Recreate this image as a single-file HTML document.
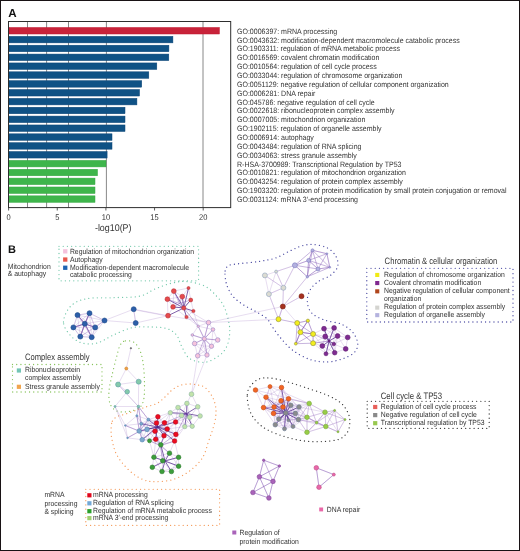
<!DOCTYPE html>
<html><head><meta charset="utf-8"><style>
html,body{margin:0;padding:0;background:#fff;}
body{width:520px;height:551px;overflow:hidden;position:relative;}
svg{position:absolute;left:0;top:0;font-family:"Liberation Sans", sans-serif;will-change:transform;text-rendering:geometricPrecision;}
.frame{position:absolute;left:0;top:0;width:518px;height:549px;border:1px solid #181214;}
</style></head><body>
<svg width="520" height="551" viewBox="0 0 520 551">
<line x1="27.5" y1="22" x2="27.5" y2="207.7" stroke="#7a7a7a" stroke-width="0.9"/>
<line x1="46.6" y1="22" x2="46.6" y2="207.7" stroke="#7a7a7a" stroke-width="0.9"/>
<line x1="68.5" y1="22" x2="68.5" y2="207.7" stroke="#7a7a7a" stroke-width="0.9"/>
<line x1="106.4" y1="22" x2="106.4" y2="207.7" stroke="#7a7a7a" stroke-width="0.9"/>
<line x1="203.0" y1="22" x2="203.0" y2="207.7" stroke="#7a7a7a" stroke-width="0.9"/>
<rect x="9.0" y="27.50" width="210.40" height="6.5" fill="#c8233a" stroke="#c0142c" stroke-width="0.5"/>
<text transform="translate(237 33.7) scale(0.9091 1)" font-size="7.722" fill="#333" >GO:0006397: mRNA processing</text>
<rect x="9.0" y="36.36" width="163.90" height="6.5" fill="#0f5285" stroke="#0b4577" stroke-width="0.5"/>
<text transform="translate(237 42.56) scale(0.9091 1)" font-size="7.722" fill="#333" >GO:0043632: modification-dependent macromolecule catabolic process</text>
<rect x="9.0" y="45.22" width="159.90" height="6.5" fill="#0f5285" stroke="#0b4577" stroke-width="0.5"/>
<text transform="translate(237 51.42) scale(0.9091 1)" font-size="7.722" fill="#333" >GO:1903311: regulation of mRNA metabolic process</text>
<rect x="9.0" y="54.08" width="159.80" height="6.5" fill="#0f5285" stroke="#0b4577" stroke-width="0.5"/>
<text transform="translate(237 60.28) scale(0.9091 1)" font-size="7.722" fill="#333" >GO:0016569: covalent chromatin modification</text>
<rect x="9.0" y="62.94" width="147.80" height="6.5" fill="#0f5285" stroke="#0b4577" stroke-width="0.5"/>
<text transform="translate(237 69.14) scale(0.9091 1)" font-size="7.722" fill="#333" >GO:0010564: regulation of cell cycle process</text>
<rect x="9.0" y="71.80" width="139.80" height="6.5" fill="#0f5285" stroke="#0b4577" stroke-width="0.5"/>
<text transform="translate(237 78.0) scale(0.9091 1)" font-size="7.722" fill="#333" >GO:0033044: regulation of chromosome organization</text>
<rect x="9.0" y="80.66" width="132.70" height="6.5" fill="#0f5285" stroke="#0b4577" stroke-width="0.5"/>
<text transform="translate(237 86.86) scale(0.9091 1)" font-size="7.722" fill="#333" >GO:0051129: negative regulation of cellular component organization</text>
<rect x="9.0" y="89.52" width="130.50" height="6.5" fill="#0f5285" stroke="#0b4577" stroke-width="0.5"/>
<text transform="translate(237 95.72) scale(0.9091 1)" font-size="7.722" fill="#333" >GO:0006281: DNA repair</text>
<rect x="9.0" y="98.38" width="127.90" height="6.5" fill="#0f5285" stroke="#0b4577" stroke-width="0.5"/>
<text transform="translate(237 104.58) scale(0.9091 1)" font-size="7.722" fill="#333" >GO:045786: negative regulation of cell cycle</text>
<rect x="9.0" y="107.24" width="116.00" height="6.5" fill="#0f5285" stroke="#0b4577" stroke-width="0.5"/>
<text transform="translate(237 113.44) scale(0.9091 1)" font-size="7.722" fill="#333" >GO:0022618: ribonucleoprotein complex assembly</text>
<rect x="9.0" y="116.10" width="116.00" height="6.5" fill="#0f5285" stroke="#0b4577" stroke-width="0.5"/>
<text transform="translate(237 122.3) scale(0.9091 1)" font-size="7.722" fill="#333" >GO:0007005: mitochondrion organization</text>
<rect x="9.0" y="124.96" width="116.00" height="6.5" fill="#0f5285" stroke="#0b4577" stroke-width="0.5"/>
<text transform="translate(237 131.16) scale(0.9091 1)" font-size="7.722" fill="#333" >GO:1902115: regulation of organelle assembly</text>
<rect x="9.0" y="133.82" width="103.00" height="6.5" fill="#0f5285" stroke="#0b4577" stroke-width="0.5"/>
<text transform="translate(237 140.02) scale(0.9091 1)" font-size="7.722" fill="#333" >GO:0006914: autophagy</text>
<rect x="9.0" y="142.68" width="103.00" height="6.5" fill="#0f5285" stroke="#0b4577" stroke-width="0.5"/>
<text transform="translate(237 148.88) scale(0.9091 1)" font-size="7.722" fill="#333" >GO:0043484: regulation of RNA splicing</text>
<rect x="9.0" y="151.54" width="98.10" height="6.5" fill="#0f5285" stroke="#0b4577" stroke-width="0.5"/>
<text transform="translate(237 157.74) scale(0.9091 1)" font-size="7.722" fill="#333" >GO:0034063: stress granule assembly</text>
<rect x="9.0" y="160.40" width="97.00" height="6.5" fill="#3eb54b" stroke="#35a843" stroke-width="0.5"/>
<text transform="translate(237 166.6) scale(0.9091 1)" font-size="7.722" fill="#333" >R-HSA-3700989: Transcriptional Regulation by TP53</text>
<rect x="9.0" y="169.26" width="88.50" height="6.5" fill="#3eb54b" stroke="#35a843" stroke-width="0.5"/>
<text transform="translate(237 175.46) scale(0.9091 1)" font-size="7.722" fill="#333" >GO:0010821: regulation of mitochondrion organization</text>
<rect x="9.0" y="178.12" width="86.00" height="6.5" fill="#3eb54b" stroke="#35a843" stroke-width="0.5"/>
<text transform="translate(237 184.32) scale(0.9091 1)" font-size="7.722" fill="#333" >GO:0043254: regulation of protein complex assembly</text>
<rect x="9.0" y="186.98" width="86.00" height="6.5" fill="#3eb54b" stroke="#35a843" stroke-width="0.5"/>
<text transform="translate(237 193.18) scale(0.9091 1)" font-size="7.722" fill="#333" >GO:1903320: regulation of protein modification by small protein conjugation or removal</text>
<rect x="9.0" y="195.84" width="86.00" height="6.5" fill="#3eb54b" stroke="#35a843" stroke-width="0.5"/>
<text transform="translate(237 202.04) scale(0.9091 1)" font-size="7.722" fill="#333" >GO:0031124: mRNA 3′-end processing</text>
<rect x="8.5" y="21.5" width="222.2" height="186.1" fill="none" stroke="#2e2e2e" stroke-width="1"/>
<line x1="8.60" y1="207.7" x2="8.60" y2="210.5" stroke="#333" stroke-width="0.8"/>
<text transform="translate(8.6 220.2) scale(0.9091 1)" font-size="8.250" fill="#333" text-anchor="middle">0</text>
<line x1="57.25" y1="207.7" x2="57.25" y2="210.5" stroke="#333" stroke-width="0.8"/>
<text transform="translate(57.25 220.2) scale(0.9091 1)" font-size="8.250" fill="#333" text-anchor="middle">5</text>
<line x1="105.90" y1="207.7" x2="105.90" y2="210.5" stroke="#333" stroke-width="0.8"/>
<text transform="translate(105.9 220.2) scale(0.9091 1)" font-size="8.250" fill="#333" text-anchor="middle">10</text>
<line x1="154.55" y1="207.7" x2="154.55" y2="210.5" stroke="#333" stroke-width="0.8"/>
<text transform="translate(154.55 220.2) scale(0.9091 1)" font-size="8.250" fill="#333" text-anchor="middle">15</text>
<line x1="203.20" y1="207.7" x2="203.20" y2="210.5" stroke="#333" stroke-width="0.8"/>
<text transform="translate(203.2 220.2) scale(0.9091 1)" font-size="8.250" fill="#333" text-anchor="middle">20</text>
<text transform="translate(113.2 231.1) scale(0.9091 1)" font-size="9.790" fill="#333" text-anchor="middle">-log10(P)</text>
<text x="8.2" y="16.8" font-size="11.6" font-weight="bold" fill="#111">A</text>
<text x="8" y="253.3" font-size="11" font-weight="bold" fill="#111">B</text>
<path d="M63.5,322.0 C63.5,317.2 66.7,310.4 70.4,306.5 C74.1,302.6 78.8,300.3 85.8,298.8 C92.8,297.3 103.7,298.1 112.7,297.7 C121.7,297.3 132.5,297.6 139.6,296.2 C146.7,294.8 149.9,291.1 155.0,289.0 C160.1,286.9 165.3,284.8 170.4,283.5 C175.5,282.2 180.1,281.1 185.8,281.5 C191.5,281.9 199.5,283.6 204.6,286.0 C209.7,288.4 213.2,292.5 216.5,296.0 C219.8,299.5 222.1,302.5 224.2,307.0 C226.3,311.5 228.1,318.2 229.0,323.0 C229.9,327.8 230.0,331.8 229.5,336.0 C229.0,340.2 227.8,344.7 226.0,348.0 C224.2,351.3 222.0,353.6 218.5,356.0 C215.0,358.4 209.8,361.9 205.0,362.3 C200.2,362.7 193.4,361.1 189.6,358.5 C185.8,355.9 184.2,350.9 182.0,347.0 C179.8,343.1 179.1,338.1 176.5,335.0 C173.9,331.9 170.8,329.8 166.5,328.5 C162.2,327.2 156.8,327.1 151.0,327.0 C145.2,326.9 138.4,326.3 132.0,327.7 C125.6,329.1 118.5,332.8 112.7,335.4 C106.9,337.9 102.4,341.7 97.3,343.0 C92.2,344.3 86.5,344.3 82.0,343.0 C77.5,341.7 73.5,338.9 70.4,335.4 C67.3,331.9 63.5,326.8 63.5,322.0Z" fill="none" stroke="#72c8aa" stroke-width="1.3" stroke-linecap="round" stroke-dasharray="0.01 4.2"/>
<path d="M225.1,271.0 C225.5,267.9 226.8,266.7 229.0,265.5 C231.2,264.3 233.2,264.5 238.1,263.8 C243.0,263.1 252.1,262.5 258.3,261.5 C264.6,260.5 270.3,259.8 275.6,258.0 C280.9,256.2 285.7,252.9 290.0,250.9 C294.3,248.9 297.7,247.1 301.5,246.0 C305.3,244.9 308.7,244.2 313.0,244.5 C317.3,244.8 323.6,246.0 327.5,248.0 C331.4,250.0 334.4,253.5 336.1,256.6 C337.8,259.7 338.6,263.6 337.6,266.7 C336.7,269.8 333.5,273.0 330.4,275.4 C327.3,277.8 322.2,278.8 318.8,281.2 C315.4,283.6 312.1,286.4 310.2,289.8 C308.3,293.2 307.1,297.5 307.3,301.3 C307.5,305.1 308.7,309.8 311.6,312.9 C314.5,316.0 319.6,318.2 324.6,320.1 C329.7,322.0 337.1,322.2 341.9,324.4 C346.7,326.6 350.8,329.7 353.4,333.1 C356.0,336.5 357.8,341.2 357.8,344.6 C357.8,348.0 356.0,350.9 353.4,353.3 C350.8,355.7 346.2,357.6 341.9,359.0 C337.6,360.4 332.8,361.8 327.5,361.9 C322.2,362.0 316.0,361.5 310.2,359.6 C304.4,357.7 297.7,353.9 292.9,350.4 C288.1,346.9 284.7,342.6 281.3,338.8 C277.9,335.0 275.1,330.7 272.7,327.3 C270.3,323.9 269.8,321.2 266.9,318.6 C264.0,316.0 259.5,313.8 255.4,311.4 C251.3,309.0 246.2,306.8 242.4,304.2 C238.6,301.6 235.0,299.0 232.3,295.6 C229.7,292.2 227.7,288.1 226.5,284.0 C225.3,279.9 224.7,274.1 225.1,271.0Z" fill="none" stroke="#4a4aa2" stroke-width="1.3" stroke-linecap="round" stroke-dasharray="0.01 4.2"/>
<path d="M125.4,340.9 C127.8,340.4 131.9,340.7 134.5,342.7 C137.1,344.7 139.3,348.6 140.8,352.7 C142.3,356.8 143.0,361.8 143.6,367.2 C144.2,372.6 144.5,379.9 144.5,385.4 C144.5,390.9 144.5,396.2 143.6,400.0 C142.7,403.8 141.7,406.1 139.0,408.0 C136.3,409.9 131.0,411.2 127.2,411.7 C123.4,412.2 119.2,412.2 116.3,410.8 C113.4,409.4 111.2,406.8 110.0,403.5 C108.8,400.2 108.7,395.3 109.0,390.8 C109.3,386.3 110.6,381.8 111.8,376.3 C113.0,370.8 114.9,363.1 116.3,358.0 C117.7,352.9 118.5,348.2 120.0,345.4 C121.5,342.5 123.0,341.3 125.4,340.9Z" fill="none" stroke="#86c25a" stroke-width="1.3" stroke-linecap="round" stroke-dasharray="0.01 4.2"/>
<path d="M112.3,421.2 C113.5,418.5 115.7,417.5 118.0,416.3 C120.3,415.1 122.8,415.0 126.1,413.9 C129.4,412.8 134.0,411.0 137.6,409.8 C141.2,408.6 144.1,407.6 147.4,406.5 C150.7,405.4 154.3,404.9 157.2,403.3 C160.1,401.7 162.5,399.2 165.0,397.0 C167.5,394.8 169.5,391.9 172.0,390.0 C174.5,388.1 177.2,386.5 180.0,385.5 C182.8,384.5 186.0,384.1 189.0,384.0 C192.0,383.9 195.3,384.4 198.0,385.0 C200.7,385.6 202.7,385.7 205.0,387.5 C207.3,389.3 209.9,392.5 211.7,395.6 C213.5,398.7 214.9,402.3 215.6,406.0 C216.2,409.7 216.1,413.8 215.6,417.7 C215.1,421.6 213.8,425.5 212.7,429.2 C211.6,432.9 210.7,435.2 209.0,440.0 C207.3,444.8 205.7,452.8 202.3,458.0 C199.0,463.2 193.8,467.9 188.9,471.5 C184.0,475.1 178.3,477.9 172.7,479.6 C167.1,481.3 160.3,481.6 155.5,481.7 C150.7,481.8 147.9,481.4 144.1,480.0 C140.3,478.6 136.2,476.2 132.7,473.5 C129.2,470.8 125.6,466.9 122.9,463.7 C120.2,460.4 118.0,457.3 116.3,454.0 C114.6,450.7 113.9,447.6 113.0,444.0 C112.1,440.4 111.2,436.5 111.1,432.7 C111.0,428.9 111.1,423.9 112.3,421.2Z" fill="none" stroke="#f59c5c" stroke-width="1.3" stroke-linecap="round" stroke-dasharray="0.01 4.2"/>
<path d="M247.3,394.6 C247.5,390.8 248.5,388.8 250.4,386.2 C252.3,383.6 255.2,380.6 258.5,379.2 C261.8,377.8 265.4,377.6 270.0,378.0 C274.6,378.4 280.2,379.9 286.0,381.5 C291.8,383.1 297.7,385.0 304.6,387.3 C311.6,389.6 321.6,392.7 327.7,395.4 C333.8,398.1 338.0,400.4 341.5,403.5 C345.0,406.6 347.1,410.8 348.5,414.0 C349.9,417.2 350.0,419.9 349.8,423.0 C349.6,426.1 349.1,429.6 347.3,432.3 C345.5,435.0 343.2,437.7 339.2,439.2 C335.1,440.7 328.8,441.2 323.0,441.5 C317.2,441.8 310.8,441.8 304.6,441.0 C298.4,440.2 292.1,438.8 286.0,437.0 C279.9,435.2 272.7,432.7 267.7,430.0 C262.7,427.3 259.1,424.3 256.0,420.8 C252.9,417.3 250.6,413.6 249.2,409.2 C247.8,404.8 247.1,398.4 247.3,394.6Z" fill="none" stroke="#3a3a3a" stroke-width="1.3" stroke-linecap="round" stroke-dasharray="0.01 4.2"/>
<line x1="77.5" y1="315.1" x2="89.5" y2="313.2" stroke="#a883c8" stroke-opacity="0.5" stroke-width="0.55"/>
<line x1="77.5" y1="315.1" x2="84.8" y2="323.8" stroke="#a883c8" stroke-opacity="0.5" stroke-width="0.55"/>
<line x1="77.5" y1="315.1" x2="73.4" y2="327.4" stroke="#a883c8" stroke-opacity="0.5" stroke-width="0.55"/>
<line x1="89.5" y1="313.2" x2="84.8" y2="323.8" stroke="#a883c8" stroke-opacity="0.5" stroke-width="0.55"/>
<line x1="89.5" y1="313.2" x2="95.2" y2="327.4" stroke="#a883c8" stroke-opacity="0.5" stroke-width="0.55"/>
<line x1="89.5" y1="313.2" x2="104.5" y2="320.5" stroke="#a883c8" stroke-opacity="0.5" stroke-width="0.55"/>
<line x1="84.8" y1="323.8" x2="73.4" y2="327.4" stroke="#a883c8" stroke-opacity="0.5" stroke-width="0.55"/>
<line x1="84.8" y1="323.8" x2="95.2" y2="327.4" stroke="#a883c8" stroke-opacity="0.5" stroke-width="0.55"/>
<line x1="84.8" y1="323.8" x2="80.3" y2="336.6" stroke="#a883c8" stroke-opacity="0.5" stroke-width="0.55"/>
<line x1="84.8" y1="323.8" x2="91.7" y2="337.2" stroke="#a883c8" stroke-opacity="0.5" stroke-width="0.55"/>
<line x1="73.4" y1="327.4" x2="80.3" y2="336.6" stroke="#a883c8" stroke-opacity="0.5" stroke-width="0.55"/>
<line x1="95.2" y1="327.4" x2="91.7" y2="337.2" stroke="#a883c8" stroke-opacity="0.5" stroke-width="0.55"/>
<line x1="95.2" y1="327.4" x2="104.5" y2="320.5" stroke="#a883c8" stroke-opacity="0.5" stroke-width="0.55"/>
<line x1="80.3" y1="336.6" x2="91.7" y2="337.2" stroke="#a883c8" stroke-opacity="0.5" stroke-width="0.55"/>
<line x1="133.7" y1="309.2" x2="135.7" y2="323" stroke="#a883c8" stroke-opacity="0.5" stroke-width="0.55"/>
<line x1="173.8" y1="291.1" x2="188.5" y2="288" stroke="#a883c8" stroke-opacity="0.5" stroke-width="0.55"/>
<line x1="173.8" y1="291.1" x2="182.3" y2="296.6" stroke="#a883c8" stroke-opacity="0.5" stroke-width="0.55"/>
<line x1="173.8" y1="291.1" x2="167.4" y2="299.2" stroke="#a883c8" stroke-opacity="0.5" stroke-width="0.55"/>
<line x1="173.8" y1="291.1" x2="173" y2="306.9" stroke="#a883c8" stroke-opacity="0.5" stroke-width="0.55"/>
<line x1="188.5" y1="288" x2="182.3" y2="296.6" stroke="#a883c8" stroke-opacity="0.5" stroke-width="0.55"/>
<line x1="188.5" y1="288" x2="190.8" y2="300" stroke="#a883c8" stroke-opacity="0.5" stroke-width="0.55"/>
<line x1="182.3" y1="296.6" x2="167.4" y2="299.2" stroke="#a883c8" stroke-opacity="0.5" stroke-width="0.55"/>
<line x1="182.3" y1="296.6" x2="190.8" y2="300" stroke="#a883c8" stroke-opacity="0.5" stroke-width="0.55"/>
<line x1="182.3" y1="296.6" x2="173" y2="306.9" stroke="#a883c8" stroke-opacity="0.5" stroke-width="0.55"/>
<line x1="182.3" y1="296.6" x2="183.8" y2="308" stroke="#a883c8" stroke-opacity="0.5" stroke-width="0.55"/>
<line x1="167.4" y1="299.2" x2="173" y2="306.9" stroke="#a883c8" stroke-opacity="0.5" stroke-width="0.55"/>
<line x1="167.4" y1="299.2" x2="168" y2="315.7" stroke="#a883c8" stroke-opacity="0.5" stroke-width="0.55"/>
<line x1="190.8" y1="300" x2="183.8" y2="308" stroke="#a883c8" stroke-opacity="0.5" stroke-width="0.55"/>
<line x1="190.8" y1="300" x2="193.4" y2="311" stroke="#a883c8" stroke-opacity="0.5" stroke-width="0.55"/>
<line x1="173" y1="306.9" x2="183.8" y2="308" stroke="#a883c8" stroke-opacity="0.5" stroke-width="0.55"/>
<line x1="173" y1="306.9" x2="168" y2="315.7" stroke="#a883c8" stroke-opacity="0.5" stroke-width="0.55"/>
<line x1="173" y1="306.9" x2="186.5" y2="317" stroke="#a883c8" stroke-opacity="0.5" stroke-width="0.55"/>
<line x1="183.8" y1="308" x2="193.4" y2="311" stroke="#a883c8" stroke-opacity="0.5" stroke-width="0.55"/>
<line x1="183.8" y1="308" x2="186.5" y2="317" stroke="#a883c8" stroke-opacity="0.5" stroke-width="0.55"/>
<line x1="193.4" y1="311" x2="186.5" y2="317" stroke="#a883c8" stroke-opacity="0.5" stroke-width="0.55"/>
<line x1="193.4" y1="311" x2="198.2" y2="326.2" stroke="#a883c8" stroke-opacity="0.5" stroke-width="0.55"/>
<line x1="186.5" y1="317" x2="198.2" y2="326.2" stroke="#a883c8" stroke-opacity="0.5" stroke-width="0.55"/>
<line x1="208.5" y1="322.6" x2="198.2" y2="326.2" stroke="#a883c8" stroke-opacity="0.5" stroke-width="0.55"/>
<line x1="208.5" y1="322.6" x2="213" y2="329.5" stroke="#a883c8" stroke-opacity="0.5" stroke-width="0.55"/>
<line x1="208.5" y1="322.6" x2="204.3" y2="338.8" stroke="#a883c8" stroke-opacity="0.5" stroke-width="0.55"/>
<line x1="198.2" y1="326.2" x2="213" y2="329.5" stroke="#a883c8" stroke-opacity="0.5" stroke-width="0.55"/>
<line x1="198.2" y1="326.2" x2="192.3" y2="335" stroke="#a883c8" stroke-opacity="0.5" stroke-width="0.55"/>
<line x1="198.2" y1="326.2" x2="204.3" y2="338.8" stroke="#a883c8" stroke-opacity="0.5" stroke-width="0.55"/>
<line x1="213" y1="329.5" x2="204.3" y2="338.8" stroke="#a883c8" stroke-opacity="0.5" stroke-width="0.55"/>
<line x1="213" y1="329.5" x2="217.7" y2="340" stroke="#a883c8" stroke-opacity="0.5" stroke-width="0.55"/>
<line x1="213" y1="329.5" x2="211.5" y2="346.2" stroke="#a883c8" stroke-opacity="0.5" stroke-width="0.55"/>
<line x1="192.3" y1="335" x2="204.3" y2="338.8" stroke="#a883c8" stroke-opacity="0.5" stroke-width="0.55"/>
<line x1="192.3" y1="335" x2="194.6" y2="343.5" stroke="#a883c8" stroke-opacity="0.5" stroke-width="0.55"/>
<line x1="204.3" y1="338.8" x2="217.7" y2="340" stroke="#a883c8" stroke-opacity="0.5" stroke-width="0.55"/>
<line x1="204.3" y1="338.8" x2="194.6" y2="343.5" stroke="#a883c8" stroke-opacity="0.5" stroke-width="0.55"/>
<line x1="204.3" y1="338.8" x2="211.5" y2="346.2" stroke="#a883c8" stroke-opacity="0.5" stroke-width="0.55"/>
<line x1="204.3" y1="338.8" x2="207" y2="355" stroke="#a883c8" stroke-opacity="0.5" stroke-width="0.55"/>
<line x1="217.7" y1="340" x2="211.5" y2="346.2" stroke="#a883c8" stroke-opacity="0.5" stroke-width="0.55"/>
<line x1="194.6" y1="343.5" x2="197.7" y2="355.8" stroke="#a883c8" stroke-opacity="0.5" stroke-width="0.55"/>
<line x1="194.6" y1="343.5" x2="207" y2="355" stroke="#a883c8" stroke-opacity="0.5" stroke-width="0.55"/>
<line x1="211.5" y1="346.2" x2="197.7" y2="355.8" stroke="#a883c8" stroke-opacity="0.5" stroke-width="0.55"/>
<line x1="211.5" y1="346.2" x2="207" y2="355" stroke="#a883c8" stroke-opacity="0.5" stroke-width="0.55"/>
<line x1="197.7" y1="355.8" x2="207" y2="355" stroke="#a883c8" stroke-opacity="0.5" stroke-width="0.55"/>
<line x1="312.5" y1="250.3" x2="326.9" y2="253.7" stroke="#a883c8" stroke-opacity="0.5" stroke-width="0.55"/>
<line x1="312.5" y1="250.3" x2="308.7" y2="260.4" stroke="#a883c8" stroke-opacity="0.5" stroke-width="0.55"/>
<line x1="326.9" y1="253.7" x2="329.8" y2="267.3" stroke="#a883c8" stroke-opacity="0.5" stroke-width="0.55"/>
<line x1="308.7" y1="260.4" x2="294.9" y2="265.3" stroke="#a883c8" stroke-opacity="0.5" stroke-width="0.55"/>
<line x1="308.7" y1="260.4" x2="318" y2="269" stroke="#a883c8" stroke-opacity="0.5" stroke-width="0.55"/>
<line x1="308.7" y1="260.4" x2="307.3" y2="276.8" stroke="#a883c8" stroke-opacity="0.5" stroke-width="0.55"/>
<line x1="294.9" y1="265.3" x2="307.3" y2="276.8" stroke="#a883c8" stroke-opacity="0.5" stroke-width="0.55"/>
<line x1="318" y1="269" x2="329.8" y2="267.3" stroke="#a883c8" stroke-opacity="0.5" stroke-width="0.55"/>
<line x1="318" y1="269" x2="307.3" y2="276.8" stroke="#a883c8" stroke-opacity="0.5" stroke-width="0.55"/>
<line x1="276.1" y1="271.6" x2="264.9" y2="275.4" stroke="#a883c8" stroke-opacity="0.5" stroke-width="0.55"/>
<line x1="283.4" y1="287.8" x2="268.9" y2="294.1" stroke="#a883c8" stroke-opacity="0.5" stroke-width="0.55"/>
<line x1="282.8" y1="306.5" x2="278.5" y2="319.2" stroke="#a883c8" stroke-opacity="0.5" stroke-width="0.55"/>
<line x1="297.2" y1="323" x2="307.9" y2="320.7" stroke="#a883c8" stroke-opacity="0.5" stroke-width="0.55"/>
<line x1="297.2" y1="323" x2="300.4" y2="332.2" stroke="#a883c8" stroke-opacity="0.5" stroke-width="0.55"/>
<line x1="307.9" y1="320.7" x2="300.4" y2="332.2" stroke="#a883c8" stroke-opacity="0.5" stroke-width="0.55"/>
<line x1="307.9" y1="320.7" x2="313.1" y2="334" stroke="#a883c8" stroke-opacity="0.5" stroke-width="0.55"/>
<line x1="300.4" y1="332.2" x2="313.1" y2="334" stroke="#a883c8" stroke-opacity="0.5" stroke-width="0.55"/>
<line x1="300.4" y1="332.2" x2="295.8" y2="343.7" stroke="#a883c8" stroke-opacity="0.5" stroke-width="0.55"/>
<line x1="300.4" y1="332.2" x2="313.1" y2="343.2" stroke="#a883c8" stroke-opacity="0.5" stroke-width="0.55"/>
<line x1="313.1" y1="334" x2="313.1" y2="343.2" stroke="#a883c8" stroke-opacity="0.5" stroke-width="0.55"/>
<line x1="313.1" y1="334" x2="324" y2="328.7" stroke="#a883c8" stroke-opacity="0.5" stroke-width="0.55"/>
<line x1="313.1" y1="334" x2="325.2" y2="336.5" stroke="#a883c8" stroke-opacity="0.5" stroke-width="0.55"/>
<line x1="313.1" y1="334" x2="322.3" y2="346" stroke="#a883c8" stroke-opacity="0.5" stroke-width="0.55"/>
<line x1="313.1" y1="343.2" x2="325.2" y2="336.5" stroke="#a883c8" stroke-opacity="0.5" stroke-width="0.55"/>
<line x1="313.1" y1="343.2" x2="329" y2="341.1" stroke="#a883c8" stroke-opacity="0.5" stroke-width="0.55"/>
<line x1="313.1" y1="343.2" x2="322.3" y2="346" stroke="#a883c8" stroke-opacity="0.5" stroke-width="0.55"/>
<line x1="313.1" y1="343.2" x2="326" y2="353.8" stroke="#a883c8" stroke-opacity="0.5" stroke-width="0.55"/>
<line x1="324" y1="328.7" x2="334.1" y2="327.9" stroke="#a883c8" stroke-opacity="0.5" stroke-width="0.55"/>
<line x1="324" y1="328.7" x2="325.2" y2="336.5" stroke="#a883c8" stroke-opacity="0.5" stroke-width="0.55"/>
<line x1="324" y1="328.7" x2="337.6" y2="336" stroke="#a883c8" stroke-opacity="0.5" stroke-width="0.55"/>
<line x1="324" y1="328.7" x2="329" y2="341.1" stroke="#a883c8" stroke-opacity="0.5" stroke-width="0.55"/>
<line x1="334.1" y1="327.9" x2="325.2" y2="336.5" stroke="#a883c8" stroke-opacity="0.5" stroke-width="0.55"/>
<line x1="334.1" y1="327.9" x2="337.6" y2="336" stroke="#a883c8" stroke-opacity="0.5" stroke-width="0.55"/>
<line x1="334.1" y1="327.9" x2="347.7" y2="337.4" stroke="#a883c8" stroke-opacity="0.5" stroke-width="0.55"/>
<line x1="334.1" y1="327.9" x2="333.8" y2="344" stroke="#a883c8" stroke-opacity="0.5" stroke-width="0.55"/>
<line x1="334.1" y1="327.9" x2="329" y2="341.1" stroke="#a883c8" stroke-opacity="0.5" stroke-width="0.55"/>
<line x1="325.2" y1="336.5" x2="337.6" y2="336" stroke="#a883c8" stroke-opacity="0.5" stroke-width="0.55"/>
<line x1="325.2" y1="336.5" x2="333.8" y2="344" stroke="#a883c8" stroke-opacity="0.5" stroke-width="0.55"/>
<line x1="325.2" y1="336.5" x2="329" y2="341.1" stroke="#a883c8" stroke-opacity="0.5" stroke-width="0.55"/>
<line x1="325.2" y1="336.5" x2="322.3" y2="346" stroke="#a883c8" stroke-opacity="0.5" stroke-width="0.55"/>
<line x1="337.6" y1="336" x2="347.7" y2="337.4" stroke="#a883c8" stroke-opacity="0.5" stroke-width="0.55"/>
<line x1="337.6" y1="336" x2="333.8" y2="344" stroke="#a883c8" stroke-opacity="0.5" stroke-width="0.55"/>
<line x1="337.6" y1="336" x2="329" y2="341.1" stroke="#a883c8" stroke-opacity="0.5" stroke-width="0.55"/>
<line x1="337.6" y1="336" x2="345.7" y2="348.9" stroke="#a883c8" stroke-opacity="0.5" stroke-width="0.55"/>
<line x1="337.6" y1="336" x2="334.7" y2="352.7" stroke="#a883c8" stroke-opacity="0.5" stroke-width="0.55"/>
<line x1="347.7" y1="337.4" x2="333.8" y2="344" stroke="#a883c8" stroke-opacity="0.5" stroke-width="0.55"/>
<line x1="347.7" y1="337.4" x2="345.7" y2="348.9" stroke="#a883c8" stroke-opacity="0.5" stroke-width="0.55"/>
<line x1="333.8" y1="344" x2="329" y2="341.1" stroke="#a883c8" stroke-opacity="0.5" stroke-width="0.55"/>
<line x1="333.8" y1="344" x2="322.3" y2="346" stroke="#a883c8" stroke-opacity="0.5" stroke-width="0.55"/>
<line x1="333.8" y1="344" x2="345.7" y2="348.9" stroke="#a883c8" stroke-opacity="0.5" stroke-width="0.55"/>
<line x1="333.8" y1="344" x2="326" y2="353.8" stroke="#a883c8" stroke-opacity="0.5" stroke-width="0.55"/>
<line x1="333.8" y1="344" x2="334.7" y2="352.7" stroke="#a883c8" stroke-opacity="0.5" stroke-width="0.55"/>
<line x1="329" y1="341.1" x2="322.3" y2="346" stroke="#a883c8" stroke-opacity="0.5" stroke-width="0.55"/>
<line x1="329" y1="341.1" x2="326" y2="353.8" stroke="#a883c8" stroke-opacity="0.5" stroke-width="0.55"/>
<line x1="329" y1="341.1" x2="334.7" y2="352.7" stroke="#a883c8" stroke-opacity="0.5" stroke-width="0.55"/>
<line x1="322.3" y1="346" x2="326" y2="353.8" stroke="#a883c8" stroke-opacity="0.5" stroke-width="0.55"/>
<line x1="322.3" y1="346" x2="334.7" y2="352.7" stroke="#a883c8" stroke-opacity="0.5" stroke-width="0.55"/>
<line x1="345.7" y1="348.9" x2="334.7" y2="352.7" stroke="#a883c8" stroke-opacity="0.5" stroke-width="0.55"/>
<line x1="326" y1="353.8" x2="334.7" y2="352.7" stroke="#a883c8" stroke-opacity="0.5" stroke-width="0.55"/>
<line x1="118.1" y1="384.5" x2="127.2" y2="391.7" stroke="#a883c8" stroke-opacity="0.5" stroke-width="0.55"/>
<line x1="191.5" y1="394.2" x2="186.9" y2="403.4" stroke="#a883c8" stroke-opacity="0.5" stroke-width="0.55"/>
<line x1="191.5" y1="394.2" x2="197.7" y2="406.8" stroke="#a883c8" stroke-opacity="0.5" stroke-width="0.55"/>
<line x1="186.9" y1="403.4" x2="178" y2="407.5" stroke="#a883c8" stroke-opacity="0.5" stroke-width="0.55"/>
<line x1="186.9" y1="403.4" x2="197.7" y2="406.8" stroke="#a883c8" stroke-opacity="0.5" stroke-width="0.55"/>
<line x1="186.9" y1="403.4" x2="181.6" y2="415.5" stroke="#a883c8" stroke-opacity="0.5" stroke-width="0.55"/>
<line x1="186.9" y1="403.4" x2="189.7" y2="417.2" stroke="#a883c8" stroke-opacity="0.5" stroke-width="0.55"/>
<line x1="178" y1="407.5" x2="170.3" y2="412.7" stroke="#a883c8" stroke-opacity="0.5" stroke-width="0.55"/>
<line x1="178" y1="407.5" x2="181.6" y2="415.5" stroke="#a883c8" stroke-opacity="0.5" stroke-width="0.55"/>
<line x1="178" y1="407.5" x2="189.7" y2="417.2" stroke="#a883c8" stroke-opacity="0.5" stroke-width="0.55"/>
<line x1="178" y1="407.5" x2="175.6" y2="422" stroke="#a883c8" stroke-opacity="0.5" stroke-width="0.55"/>
<line x1="197.7" y1="406.8" x2="189.7" y2="417.2" stroke="#a883c8" stroke-opacity="0.5" stroke-width="0.55"/>
<line x1="197.7" y1="406.8" x2="200.1" y2="416" stroke="#a883c8" stroke-opacity="0.5" stroke-width="0.55"/>
<line x1="170.3" y1="412.7" x2="181.6" y2="415.5" stroke="#a883c8" stroke-opacity="0.5" stroke-width="0.55"/>
<line x1="170.3" y1="412.7" x2="157.9" y2="416.7" stroke="#a883c8" stroke-opacity="0.5" stroke-width="0.55"/>
<line x1="170.3" y1="412.7" x2="156.5" y2="423" stroke="#a883c8" stroke-opacity="0.5" stroke-width="0.55"/>
<line x1="170.3" y1="412.7" x2="164.5" y2="422.8" stroke="#a883c8" stroke-opacity="0.5" stroke-width="0.55"/>
<line x1="170.3" y1="412.7" x2="175.6" y2="422" stroke="#a883c8" stroke-opacity="0.5" stroke-width="0.55"/>
<line x1="170.3" y1="412.7" x2="167.2" y2="429" stroke="#a883c8" stroke-opacity="0.5" stroke-width="0.55"/>
<line x1="181.6" y1="415.5" x2="189.7" y2="417.2" stroke="#a883c8" stroke-opacity="0.5" stroke-width="0.55"/>
<line x1="181.6" y1="415.5" x2="184.8" y2="426.6" stroke="#a883c8" stroke-opacity="0.5" stroke-width="0.55"/>
<line x1="181.6" y1="415.5" x2="192.2" y2="426.3" stroke="#a883c8" stroke-opacity="0.5" stroke-width="0.55"/>
<line x1="181.6" y1="415.5" x2="175.6" y2="422" stroke="#a883c8" stroke-opacity="0.5" stroke-width="0.55"/>
<line x1="189.7" y1="417.2" x2="200.1" y2="416" stroke="#a883c8" stroke-opacity="0.5" stroke-width="0.55"/>
<line x1="189.7" y1="417.2" x2="184.8" y2="426.6" stroke="#a883c8" stroke-opacity="0.5" stroke-width="0.55"/>
<line x1="189.7" y1="417.2" x2="192.2" y2="426.3" stroke="#a883c8" stroke-opacity="0.5" stroke-width="0.55"/>
<line x1="189.7" y1="417.2" x2="175.6" y2="422" stroke="#a883c8" stroke-opacity="0.5" stroke-width="0.55"/>
<line x1="200.1" y1="416" x2="192.2" y2="426.3" stroke="#a883c8" stroke-opacity="0.5" stroke-width="0.55"/>
<line x1="184.8" y1="426.6" x2="192.2" y2="426.3" stroke="#a883c8" stroke-opacity="0.5" stroke-width="0.55"/>
<line x1="184.8" y1="426.6" x2="175.6" y2="422" stroke="#a883c8" stroke-opacity="0.5" stroke-width="0.55"/>
<line x1="184.8" y1="426.6" x2="167.2" y2="429" stroke="#a883c8" stroke-opacity="0.5" stroke-width="0.55"/>
<line x1="184.8" y1="426.6" x2="175.9" y2="434.4" stroke="#a883c8" stroke-opacity="0.5" stroke-width="0.55"/>
<line x1="184.8" y1="426.6" x2="174.6" y2="441" stroke="#a883c8" stroke-opacity="0.5" stroke-width="0.55"/>
<line x1="192.2" y1="426.3" x2="175.6" y2="422" stroke="#a883c8" stroke-opacity="0.5" stroke-width="0.55"/>
<line x1="157.9" y1="416.7" x2="156.5" y2="423" stroke="#a883c8" stroke-opacity="0.5" stroke-width="0.55"/>
<line x1="157.9" y1="416.7" x2="164.5" y2="422.8" stroke="#a883c8" stroke-opacity="0.5" stroke-width="0.55"/>
<line x1="157.9" y1="416.7" x2="167.2" y2="429" stroke="#a883c8" stroke-opacity="0.5" stroke-width="0.55"/>
<line x1="157.9" y1="416.7" x2="155" y2="431.2" stroke="#a883c8" stroke-opacity="0.5" stroke-width="0.55"/>
<line x1="157.9" y1="416.7" x2="148.4" y2="419.6" stroke="#a883c8" stroke-opacity="0.5" stroke-width="0.55"/>
<line x1="157.9" y1="416.7" x2="147" y2="429.4" stroke="#a883c8" stroke-opacity="0.5" stroke-width="0.55"/>
<line x1="156.5" y1="423" x2="164.5" y2="422.8" stroke="#a883c8" stroke-opacity="0.5" stroke-width="0.55"/>
<line x1="156.5" y1="423" x2="167.2" y2="429" stroke="#a883c8" stroke-opacity="0.5" stroke-width="0.55"/>
<line x1="156.5" y1="423" x2="155" y2="431.2" stroke="#a883c8" stroke-opacity="0.5" stroke-width="0.55"/>
<line x1="156.5" y1="423" x2="164" y2="435.7" stroke="#a883c8" stroke-opacity="0.5" stroke-width="0.55"/>
<line x1="156.5" y1="423" x2="155.7" y2="439.3" stroke="#a883c8" stroke-opacity="0.5" stroke-width="0.55"/>
<line x1="156.5" y1="423" x2="148.4" y2="419.6" stroke="#a883c8" stroke-opacity="0.5" stroke-width="0.55"/>
<line x1="156.5" y1="423" x2="141.2" y2="423.7" stroke="#a883c8" stroke-opacity="0.5" stroke-width="0.55"/>
<line x1="156.5" y1="423" x2="147" y2="429.4" stroke="#a883c8" stroke-opacity="0.5" stroke-width="0.55"/>
<line x1="164.5" y1="422.8" x2="175.6" y2="422" stroke="#a883c8" stroke-opacity="0.5" stroke-width="0.55"/>
<line x1="164.5" y1="422.8" x2="167.2" y2="429" stroke="#a883c8" stroke-opacity="0.5" stroke-width="0.55"/>
<line x1="164.5" y1="422.8" x2="155" y2="431.2" stroke="#a883c8" stroke-opacity="0.5" stroke-width="0.55"/>
<line x1="164.5" y1="422.8" x2="164" y2="435.7" stroke="#a883c8" stroke-opacity="0.5" stroke-width="0.55"/>
<line x1="164.5" y1="422.8" x2="175.9" y2="434.4" stroke="#a883c8" stroke-opacity="0.5" stroke-width="0.55"/>
<line x1="164.5" y1="422.8" x2="148.4" y2="419.6" stroke="#a883c8" stroke-opacity="0.5" stroke-width="0.55"/>
<line x1="175.6" y1="422" x2="167.2" y2="429" stroke="#a883c8" stroke-opacity="0.5" stroke-width="0.55"/>
<line x1="175.6" y1="422" x2="164" y2="435.7" stroke="#a883c8" stroke-opacity="0.5" stroke-width="0.55"/>
<line x1="175.6" y1="422" x2="175.9" y2="434.4" stroke="#a883c8" stroke-opacity="0.5" stroke-width="0.55"/>
<line x1="167.2" y1="429" x2="155" y2="431.2" stroke="#a883c8" stroke-opacity="0.5" stroke-width="0.55"/>
<line x1="167.2" y1="429" x2="164" y2="435.7" stroke="#a883c8" stroke-opacity="0.5" stroke-width="0.55"/>
<line x1="167.2" y1="429" x2="175.9" y2="434.4" stroke="#a883c8" stroke-opacity="0.5" stroke-width="0.55"/>
<line x1="167.2" y1="429" x2="155.7" y2="439.3" stroke="#a883c8" stroke-opacity="0.5" stroke-width="0.55"/>
<line x1="167.2" y1="429" x2="174.6" y2="441" stroke="#a883c8" stroke-opacity="0.5" stroke-width="0.55"/>
<line x1="167.2" y1="429" x2="160.8" y2="444.8" stroke="#a883c8" stroke-opacity="0.5" stroke-width="0.55"/>
<line x1="155" y1="431.2" x2="164" y2="435.7" stroke="#a883c8" stroke-opacity="0.5" stroke-width="0.55"/>
<line x1="155" y1="431.2" x2="155.7" y2="439.3" stroke="#a883c8" stroke-opacity="0.5" stroke-width="0.55"/>
<line x1="155" y1="431.2" x2="148.4" y2="419.6" stroke="#a883c8" stroke-opacity="0.5" stroke-width="0.55"/>
<line x1="155" y1="431.2" x2="141.2" y2="423.7" stroke="#a883c8" stroke-opacity="0.5" stroke-width="0.55"/>
<line x1="155" y1="431.2" x2="139.2" y2="431" stroke="#a883c8" stroke-opacity="0.5" stroke-width="0.55"/>
<line x1="155" y1="431.2" x2="147" y2="429.4" stroke="#a883c8" stroke-opacity="0.5" stroke-width="0.55"/>
<line x1="155" y1="431.2" x2="142.2" y2="439.7" stroke="#a883c8" stroke-opacity="0.5" stroke-width="0.55"/>
<line x1="155" y1="431.2" x2="149.5" y2="440.8" stroke="#a883c8" stroke-opacity="0.5" stroke-width="0.55"/>
<line x1="155" y1="431.2" x2="160.8" y2="444.8" stroke="#a883c8" stroke-opacity="0.5" stroke-width="0.55"/>
<line x1="164" y1="435.7" x2="175.9" y2="434.4" stroke="#a883c8" stroke-opacity="0.5" stroke-width="0.55"/>
<line x1="164" y1="435.7" x2="155.7" y2="439.3" stroke="#a883c8" stroke-opacity="0.5" stroke-width="0.55"/>
<line x1="164" y1="435.7" x2="174.6" y2="441" stroke="#a883c8" stroke-opacity="0.5" stroke-width="0.55"/>
<line x1="164" y1="435.7" x2="149.5" y2="440.8" stroke="#a883c8" stroke-opacity="0.5" stroke-width="0.55"/>
<line x1="164" y1="435.7" x2="160.8" y2="444.8" stroke="#a883c8" stroke-opacity="0.5" stroke-width="0.55"/>
<line x1="175.9" y1="434.4" x2="174.6" y2="441" stroke="#a883c8" stroke-opacity="0.5" stroke-width="0.55"/>
<line x1="155.7" y1="439.3" x2="147" y2="429.4" stroke="#a883c8" stroke-opacity="0.5" stroke-width="0.55"/>
<line x1="155.7" y1="439.3" x2="142.2" y2="439.7" stroke="#a883c8" stroke-opacity="0.5" stroke-width="0.55"/>
<line x1="155.7" y1="439.3" x2="149.5" y2="440.8" stroke="#a883c8" stroke-opacity="0.5" stroke-width="0.55"/>
<line x1="155.7" y1="439.3" x2="160.8" y2="444.8" stroke="#a883c8" stroke-opacity="0.5" stroke-width="0.55"/>
<line x1="155.7" y1="439.3" x2="153.9" y2="457.2" stroke="#a883c8" stroke-opacity="0.5" stroke-width="0.55"/>
<line x1="174.6" y1="441" x2="160.8" y2="444.8" stroke="#a883c8" stroke-opacity="0.5" stroke-width="0.55"/>
<line x1="174.6" y1="441" x2="169.5" y2="453.2" stroke="#a883c8" stroke-opacity="0.5" stroke-width="0.55"/>
<line x1="174.6" y1="441" x2="178.6" y2="457.3" stroke="#a883c8" stroke-opacity="0.5" stroke-width="0.55"/>
<line x1="136.8" y1="415.8" x2="148.4" y2="419.6" stroke="#a883c8" stroke-opacity="0.5" stroke-width="0.55"/>
<line x1="136.8" y1="415.8" x2="141.2" y2="423.7" stroke="#a883c8" stroke-opacity="0.5" stroke-width="0.55"/>
<line x1="136.8" y1="415.8" x2="125.3" y2="425.5" stroke="#a883c8" stroke-opacity="0.5" stroke-width="0.55"/>
<line x1="136.8" y1="415.8" x2="139.2" y2="431" stroke="#a883c8" stroke-opacity="0.5" stroke-width="0.55"/>
<line x1="136.8" y1="415.8" x2="147" y2="429.4" stroke="#a883c8" stroke-opacity="0.5" stroke-width="0.55"/>
<line x1="148.4" y1="419.6" x2="141.2" y2="423.7" stroke="#a883c8" stroke-opacity="0.5" stroke-width="0.55"/>
<line x1="148.4" y1="419.6" x2="139.2" y2="431" stroke="#a883c8" stroke-opacity="0.5" stroke-width="0.55"/>
<line x1="148.4" y1="419.6" x2="147" y2="429.4" stroke="#a883c8" stroke-opacity="0.5" stroke-width="0.55"/>
<line x1="141.2" y1="423.7" x2="125.3" y2="425.5" stroke="#a883c8" stroke-opacity="0.5" stroke-width="0.55"/>
<line x1="141.2" y1="423.7" x2="139.2" y2="431" stroke="#a883c8" stroke-opacity="0.5" stroke-width="0.55"/>
<line x1="141.2" y1="423.7" x2="147" y2="429.4" stroke="#a883c8" stroke-opacity="0.5" stroke-width="0.55"/>
<line x1="141.2" y1="423.7" x2="142.2" y2="439.7" stroke="#a883c8" stroke-opacity="0.5" stroke-width="0.55"/>
<line x1="125.3" y1="425.5" x2="139.2" y2="431" stroke="#a883c8" stroke-opacity="0.5" stroke-width="0.55"/>
<line x1="125.3" y1="425.5" x2="127.5" y2="437.9" stroke="#a883c8" stroke-opacity="0.5" stroke-width="0.55"/>
<line x1="139.2" y1="431" x2="147" y2="429.4" stroke="#a883c8" stroke-opacity="0.5" stroke-width="0.55"/>
<line x1="139.2" y1="431" x2="127.5" y2="437.9" stroke="#a883c8" stroke-opacity="0.5" stroke-width="0.55"/>
<line x1="139.2" y1="431" x2="142.2" y2="439.7" stroke="#a883c8" stroke-opacity="0.5" stroke-width="0.55"/>
<line x1="139.2" y1="431" x2="149.5" y2="440.8" stroke="#a883c8" stroke-opacity="0.5" stroke-width="0.55"/>
<line x1="147" y1="429.4" x2="142.2" y2="439.7" stroke="#a883c8" stroke-opacity="0.5" stroke-width="0.55"/>
<line x1="147" y1="429.4" x2="149.5" y2="440.8" stroke="#a883c8" stroke-opacity="0.5" stroke-width="0.55"/>
<line x1="127.5" y1="437.9" x2="142.2" y2="439.7" stroke="#a883c8" stroke-opacity="0.5" stroke-width="0.55"/>
<line x1="142.2" y1="439.7" x2="149.5" y2="440.8" stroke="#a883c8" stroke-opacity="0.5" stroke-width="0.55"/>
<line x1="149.5" y1="440.8" x2="160.8" y2="444.8" stroke="#a883c8" stroke-opacity="0.5" stroke-width="0.55"/>
<line x1="149.5" y1="440.8" x2="153.9" y2="457.2" stroke="#a883c8" stroke-opacity="0.5" stroke-width="0.55"/>
<line x1="160.8" y1="444.8" x2="169.5" y2="453.2" stroke="#a883c8" stroke-opacity="0.5" stroke-width="0.55"/>
<line x1="160.8" y1="444.8" x2="153.9" y2="457.2" stroke="#a883c8" stroke-opacity="0.5" stroke-width="0.55"/>
<line x1="160.8" y1="444.8" x2="162.7" y2="460.8" stroke="#a883c8" stroke-opacity="0.5" stroke-width="0.55"/>
<line x1="169.5" y1="453.2" x2="153.9" y2="457.2" stroke="#a883c8" stroke-opacity="0.5" stroke-width="0.55"/>
<line x1="169.5" y1="453.2" x2="162.7" y2="460.8" stroke="#a883c8" stroke-opacity="0.5" stroke-width="0.55"/>
<line x1="169.5" y1="453.2" x2="178.6" y2="457.3" stroke="#a883c8" stroke-opacity="0.5" stroke-width="0.55"/>
<line x1="169.5" y1="453.2" x2="178.6" y2="466.2" stroke="#a883c8" stroke-opacity="0.5" stroke-width="0.55"/>
<line x1="153.9" y1="457.2" x2="162.7" y2="460.8" stroke="#a883c8" stroke-opacity="0.5" stroke-width="0.55"/>
<line x1="153.9" y1="457.2" x2="152.3" y2="467.3" stroke="#a883c8" stroke-opacity="0.5" stroke-width="0.55"/>
<line x1="153.9" y1="457.2" x2="162" y2="471.5" stroke="#a883c8" stroke-opacity="0.5" stroke-width="0.55"/>
<line x1="162.7" y1="460.8" x2="178.6" y2="457.3" stroke="#a883c8" stroke-opacity="0.5" stroke-width="0.55"/>
<line x1="162.7" y1="460.8" x2="152.3" y2="467.3" stroke="#a883c8" stroke-opacity="0.5" stroke-width="0.55"/>
<line x1="162.7" y1="460.8" x2="178.6" y2="466.2" stroke="#a883c8" stroke-opacity="0.5" stroke-width="0.55"/>
<line x1="162.7" y1="460.8" x2="162" y2="471.5" stroke="#a883c8" stroke-opacity="0.5" stroke-width="0.55"/>
<line x1="162.7" y1="460.8" x2="171.4" y2="471.5" stroke="#a883c8" stroke-opacity="0.5" stroke-width="0.55"/>
<line x1="178.6" y1="457.3" x2="178.6" y2="466.2" stroke="#a883c8" stroke-opacity="0.5" stroke-width="0.55"/>
<line x1="178.6" y1="457.3" x2="171.4" y2="471.5" stroke="#a883c8" stroke-opacity="0.5" stroke-width="0.55"/>
<line x1="152.3" y1="467.3" x2="162" y2="471.5" stroke="#a883c8" stroke-opacity="0.5" stroke-width="0.55"/>
<line x1="178.6" y1="466.2" x2="162" y2="471.5" stroke="#a883c8" stroke-opacity="0.5" stroke-width="0.55"/>
<line x1="178.6" y1="466.2" x2="171.4" y2="471.5" stroke="#a883c8" stroke-opacity="0.5" stroke-width="0.55"/>
<line x1="162" y1="471.5" x2="171.4" y2="471.5" stroke="#a883c8" stroke-opacity="0.5" stroke-width="0.55"/>
<line x1="255.5" y1="390" x2="270" y2="386.6" stroke="#a883c8" stroke-opacity="0.5" stroke-width="0.55"/>
<line x1="255.5" y1="390" x2="266" y2="397.2" stroke="#a883c8" stroke-opacity="0.5" stroke-width="0.55"/>
<line x1="255.5" y1="390" x2="263.5" y2="407.6" stroke="#a883c8" stroke-opacity="0.5" stroke-width="0.55"/>
<line x1="270" y1="386.6" x2="281.5" y2="387.5" stroke="#a883c8" stroke-opacity="0.5" stroke-width="0.55"/>
<line x1="270" y1="386.6" x2="266" y2="397.2" stroke="#a883c8" stroke-opacity="0.5" stroke-width="0.55"/>
<line x1="270" y1="386.6" x2="281" y2="400.7" stroke="#a883c8" stroke-opacity="0.5" stroke-width="0.55"/>
<line x1="270" y1="386.6" x2="263.5" y2="407.6" stroke="#a883c8" stroke-opacity="0.5" stroke-width="0.55"/>
<line x1="270" y1="386.6" x2="274" y2="407" stroke="#a883c8" stroke-opacity="0.5" stroke-width="0.55"/>
<line x1="281.5" y1="387.5" x2="266" y2="397.2" stroke="#a883c8" stroke-opacity="0.5" stroke-width="0.55"/>
<line x1="281.5" y1="387.5" x2="281" y2="400.7" stroke="#a883c8" stroke-opacity="0.5" stroke-width="0.55"/>
<line x1="281.5" y1="387.5" x2="288.5" y2="398.8" stroke="#a883c8" stroke-opacity="0.5" stroke-width="0.55"/>
<line x1="281.5" y1="387.5" x2="274" y2="407" stroke="#a883c8" stroke-opacity="0.5" stroke-width="0.55"/>
<line x1="281.5" y1="387.5" x2="283" y2="407" stroke="#a883c8" stroke-opacity="0.5" stroke-width="0.55"/>
<line x1="281.5" y1="387.5" x2="290.8" y2="405.3" stroke="#a883c8" stroke-opacity="0.5" stroke-width="0.55"/>
<line x1="266" y1="397.2" x2="281" y2="400.7" stroke="#a883c8" stroke-opacity="0.5" stroke-width="0.55"/>
<line x1="266" y1="397.2" x2="263.5" y2="407.6" stroke="#a883c8" stroke-opacity="0.5" stroke-width="0.55"/>
<line x1="266" y1="397.2" x2="274" y2="407" stroke="#a883c8" stroke-opacity="0.5" stroke-width="0.55"/>
<line x1="266" y1="397.2" x2="283" y2="407" stroke="#a883c8" stroke-opacity="0.5" stroke-width="0.55"/>
<line x1="266" y1="397.2" x2="273.5" y2="413.4" stroke="#a883c8" stroke-opacity="0.5" stroke-width="0.55"/>
<line x1="281" y1="400.7" x2="288.5" y2="398.8" stroke="#a883c8" stroke-opacity="0.5" stroke-width="0.55"/>
<line x1="281" y1="400.7" x2="263.5" y2="407.6" stroke="#a883c8" stroke-opacity="0.5" stroke-width="0.55"/>
<line x1="281" y1="400.7" x2="274" y2="407" stroke="#a883c8" stroke-opacity="0.5" stroke-width="0.55"/>
<line x1="281" y1="400.7" x2="283" y2="407" stroke="#a883c8" stroke-opacity="0.5" stroke-width="0.55"/>
<line x1="281" y1="400.7" x2="273.5" y2="413.4" stroke="#a883c8" stroke-opacity="0.5" stroke-width="0.55"/>
<line x1="281" y1="400.7" x2="290.8" y2="405.3" stroke="#a883c8" stroke-opacity="0.5" stroke-width="0.55"/>
<line x1="281" y1="400.7" x2="299" y2="407" stroke="#a883c8" stroke-opacity="0.5" stroke-width="0.55"/>
<line x1="281" y1="400.7" x2="285.7" y2="413" stroke="#a883c8" stroke-opacity="0.5" stroke-width="0.55"/>
<line x1="281" y1="400.7" x2="295.4" y2="413.4" stroke="#a883c8" stroke-opacity="0.5" stroke-width="0.55"/>
<line x1="281" y1="400.7" x2="278.8" y2="419" stroke="#a883c8" stroke-opacity="0.5" stroke-width="0.55"/>
<line x1="281" y1="400.7" x2="288.5" y2="420.3" stroke="#a883c8" stroke-opacity="0.5" stroke-width="0.55"/>
<line x1="288.5" y1="398.8" x2="274" y2="407" stroke="#a883c8" stroke-opacity="0.5" stroke-width="0.55"/>
<line x1="288.5" y1="398.8" x2="283" y2="407" stroke="#a883c8" stroke-opacity="0.5" stroke-width="0.55"/>
<line x1="288.5" y1="398.8" x2="273.5" y2="413.4" stroke="#a883c8" stroke-opacity="0.5" stroke-width="0.55"/>
<line x1="288.5" y1="398.8" x2="290.8" y2="405.3" stroke="#a883c8" stroke-opacity="0.5" stroke-width="0.55"/>
<line x1="288.5" y1="398.8" x2="299" y2="407" stroke="#a883c8" stroke-opacity="0.5" stroke-width="0.55"/>
<line x1="288.5" y1="398.8" x2="285.7" y2="413" stroke="#a883c8" stroke-opacity="0.5" stroke-width="0.55"/>
<line x1="288.5" y1="398.8" x2="295.4" y2="413.4" stroke="#a883c8" stroke-opacity="0.5" stroke-width="0.55"/>
<line x1="288.5" y1="398.8" x2="288.5" y2="420.3" stroke="#a883c8" stroke-opacity="0.5" stroke-width="0.55"/>
<line x1="288.5" y1="398.8" x2="309.2" y2="403.5" stroke="#a883c8" stroke-opacity="0.5" stroke-width="0.55"/>
<line x1="263.5" y1="407.6" x2="274" y2="407" stroke="#a883c8" stroke-opacity="0.5" stroke-width="0.55"/>
<line x1="263.5" y1="407.6" x2="283" y2="407" stroke="#a883c8" stroke-opacity="0.5" stroke-width="0.55"/>
<line x1="263.5" y1="407.6" x2="273.5" y2="413.4" stroke="#a883c8" stroke-opacity="0.5" stroke-width="0.55"/>
<line x1="263.5" y1="407.6" x2="278.8" y2="419" stroke="#a883c8" stroke-opacity="0.5" stroke-width="0.55"/>
<line x1="263.5" y1="407.6" x2="275.3" y2="424.7" stroke="#a883c8" stroke-opacity="0.5" stroke-width="0.55"/>
<line x1="274" y1="407" x2="283" y2="407" stroke="#a883c8" stroke-opacity="0.5" stroke-width="0.55"/>
<line x1="274" y1="407" x2="273.5" y2="413.4" stroke="#a883c8" stroke-opacity="0.5" stroke-width="0.55"/>
<line x1="274" y1="407" x2="290.8" y2="405.3" stroke="#a883c8" stroke-opacity="0.5" stroke-width="0.55"/>
<line x1="274" y1="407" x2="285.7" y2="413" stroke="#a883c8" stroke-opacity="0.5" stroke-width="0.55"/>
<line x1="274" y1="407" x2="278.8" y2="419" stroke="#a883c8" stroke-opacity="0.5" stroke-width="0.55"/>
<line x1="274" y1="407" x2="288.5" y2="420.3" stroke="#a883c8" stroke-opacity="0.5" stroke-width="0.55"/>
<line x1="274" y1="407" x2="275.3" y2="424.7" stroke="#a883c8" stroke-opacity="0.5" stroke-width="0.55"/>
<line x1="283" y1="407" x2="273.5" y2="413.4" stroke="#a883c8" stroke-opacity="0.5" stroke-width="0.55"/>
<line x1="283" y1="407" x2="290.8" y2="405.3" stroke="#a883c8" stroke-opacity="0.5" stroke-width="0.55"/>
<line x1="283" y1="407" x2="299" y2="407" stroke="#a883c8" stroke-opacity="0.5" stroke-width="0.55"/>
<line x1="283" y1="407" x2="285.7" y2="413" stroke="#a883c8" stroke-opacity="0.5" stroke-width="0.55"/>
<line x1="283" y1="407" x2="295.4" y2="413.4" stroke="#a883c8" stroke-opacity="0.5" stroke-width="0.55"/>
<line x1="283" y1="407" x2="278.8" y2="419" stroke="#a883c8" stroke-opacity="0.5" stroke-width="0.55"/>
<line x1="283" y1="407" x2="288.5" y2="420.3" stroke="#a883c8" stroke-opacity="0.5" stroke-width="0.55"/>
<line x1="283" y1="407" x2="298.4" y2="419.6" stroke="#a883c8" stroke-opacity="0.5" stroke-width="0.55"/>
<line x1="283" y1="407" x2="275.3" y2="424.7" stroke="#a883c8" stroke-opacity="0.5" stroke-width="0.55"/>
<line x1="283" y1="407" x2="293" y2="426.5" stroke="#a883c8" stroke-opacity="0.5" stroke-width="0.55"/>
<line x1="283" y1="407" x2="284.5" y2="428.8" stroke="#a883c8" stroke-opacity="0.5" stroke-width="0.55"/>
<line x1="273.5" y1="413.4" x2="290.8" y2="405.3" stroke="#a883c8" stroke-opacity="0.5" stroke-width="0.55"/>
<line x1="273.5" y1="413.4" x2="285.7" y2="413" stroke="#a883c8" stroke-opacity="0.5" stroke-width="0.55"/>
<line x1="273.5" y1="413.4" x2="295.4" y2="413.4" stroke="#a883c8" stroke-opacity="0.5" stroke-width="0.55"/>
<line x1="273.5" y1="413.4" x2="278.8" y2="419" stroke="#a883c8" stroke-opacity="0.5" stroke-width="0.55"/>
<line x1="273.5" y1="413.4" x2="288.5" y2="420.3" stroke="#a883c8" stroke-opacity="0.5" stroke-width="0.55"/>
<line x1="273.5" y1="413.4" x2="275.3" y2="424.7" stroke="#a883c8" stroke-opacity="0.5" stroke-width="0.55"/>
<line x1="273.5" y1="413.4" x2="284.5" y2="428.8" stroke="#a883c8" stroke-opacity="0.5" stroke-width="0.55"/>
<line x1="290.8" y1="405.3" x2="299" y2="407" stroke="#a883c8" stroke-opacity="0.5" stroke-width="0.55"/>
<line x1="290.8" y1="405.3" x2="285.7" y2="413" stroke="#a883c8" stroke-opacity="0.5" stroke-width="0.55"/>
<line x1="290.8" y1="405.3" x2="295.4" y2="413.4" stroke="#a883c8" stroke-opacity="0.5" stroke-width="0.55"/>
<line x1="290.8" y1="405.3" x2="278.8" y2="419" stroke="#a883c8" stroke-opacity="0.5" stroke-width="0.55"/>
<line x1="290.8" y1="405.3" x2="288.5" y2="420.3" stroke="#a883c8" stroke-opacity="0.5" stroke-width="0.55"/>
<line x1="290.8" y1="405.3" x2="298.4" y2="419.6" stroke="#a883c8" stroke-opacity="0.5" stroke-width="0.55"/>
<line x1="290.8" y1="405.3" x2="293" y2="426.5" stroke="#a883c8" stroke-opacity="0.5" stroke-width="0.55"/>
<line x1="290.8" y1="405.3" x2="309.2" y2="403.5" stroke="#a883c8" stroke-opacity="0.5" stroke-width="0.55"/>
<line x1="290.8" y1="405.3" x2="307" y2="417.3" stroke="#a883c8" stroke-opacity="0.5" stroke-width="0.55"/>
<line x1="299" y1="407" x2="285.7" y2="413" stroke="#a883c8" stroke-opacity="0.5" stroke-width="0.55"/>
<line x1="299" y1="407" x2="295.4" y2="413.4" stroke="#a883c8" stroke-opacity="0.5" stroke-width="0.55"/>
<line x1="299" y1="407" x2="288.5" y2="420.3" stroke="#a883c8" stroke-opacity="0.5" stroke-width="0.55"/>
<line x1="299" y1="407" x2="298.4" y2="419.6" stroke="#a883c8" stroke-opacity="0.5" stroke-width="0.55"/>
<line x1="299" y1="407" x2="293" y2="426.5" stroke="#a883c8" stroke-opacity="0.5" stroke-width="0.55"/>
<line x1="299" y1="407" x2="309.2" y2="403.5" stroke="#a883c8" stroke-opacity="0.5" stroke-width="0.55"/>
<line x1="299" y1="407" x2="307" y2="417.3" stroke="#a883c8" stroke-opacity="0.5" stroke-width="0.55"/>
<line x1="285.7" y1="413" x2="295.4" y2="413.4" stroke="#a883c8" stroke-opacity="0.5" stroke-width="0.55"/>
<line x1="285.7" y1="413" x2="278.8" y2="419" stroke="#a883c8" stroke-opacity="0.5" stroke-width="0.55"/>
<line x1="285.7" y1="413" x2="288.5" y2="420.3" stroke="#a883c8" stroke-opacity="0.5" stroke-width="0.55"/>
<line x1="285.7" y1="413" x2="298.4" y2="419.6" stroke="#a883c8" stroke-opacity="0.5" stroke-width="0.55"/>
<line x1="285.7" y1="413" x2="275.3" y2="424.7" stroke="#a883c8" stroke-opacity="0.5" stroke-width="0.55"/>
<line x1="285.7" y1="413" x2="293" y2="426.5" stroke="#a883c8" stroke-opacity="0.5" stroke-width="0.55"/>
<line x1="285.7" y1="413" x2="284.5" y2="428.8" stroke="#a883c8" stroke-opacity="0.5" stroke-width="0.55"/>
<line x1="285.7" y1="413" x2="307" y2="417.3" stroke="#a883c8" stroke-opacity="0.5" stroke-width="0.55"/>
<line x1="295.4" y1="413.4" x2="278.8" y2="419" stroke="#a883c8" stroke-opacity="0.5" stroke-width="0.55"/>
<line x1="295.4" y1="413.4" x2="288.5" y2="420.3" stroke="#a883c8" stroke-opacity="0.5" stroke-width="0.55"/>
<line x1="295.4" y1="413.4" x2="298.4" y2="419.6" stroke="#a883c8" stroke-opacity="0.5" stroke-width="0.55"/>
<line x1="295.4" y1="413.4" x2="293" y2="426.5" stroke="#a883c8" stroke-opacity="0.5" stroke-width="0.55"/>
<line x1="295.4" y1="413.4" x2="284.5" y2="428.8" stroke="#a883c8" stroke-opacity="0.5" stroke-width="0.55"/>
<line x1="295.4" y1="413.4" x2="309.2" y2="403.5" stroke="#a883c8" stroke-opacity="0.5" stroke-width="0.55"/>
<line x1="295.4" y1="413.4" x2="307" y2="417.3" stroke="#a883c8" stroke-opacity="0.5" stroke-width="0.55"/>
<line x1="278.8" y1="419" x2="288.5" y2="420.3" stroke="#a883c8" stroke-opacity="0.5" stroke-width="0.55"/>
<line x1="278.8" y1="419" x2="298.4" y2="419.6" stroke="#a883c8" stroke-opacity="0.5" stroke-width="0.55"/>
<line x1="278.8" y1="419" x2="275.3" y2="424.7" stroke="#a883c8" stroke-opacity="0.5" stroke-width="0.55"/>
<line x1="278.8" y1="419" x2="293" y2="426.5" stroke="#a883c8" stroke-opacity="0.5" stroke-width="0.55"/>
<line x1="278.8" y1="419" x2="284.5" y2="428.8" stroke="#a883c8" stroke-opacity="0.5" stroke-width="0.55"/>
<line x1="288.5" y1="420.3" x2="298.4" y2="419.6" stroke="#a883c8" stroke-opacity="0.5" stroke-width="0.55"/>
<line x1="288.5" y1="420.3" x2="275.3" y2="424.7" stroke="#a883c8" stroke-opacity="0.5" stroke-width="0.55"/>
<line x1="288.5" y1="420.3" x2="293" y2="426.5" stroke="#a883c8" stroke-opacity="0.5" stroke-width="0.55"/>
<line x1="288.5" y1="420.3" x2="284.5" y2="428.8" stroke="#a883c8" stroke-opacity="0.5" stroke-width="0.55"/>
<line x1="288.5" y1="420.3" x2="307" y2="417.3" stroke="#a883c8" stroke-opacity="0.5" stroke-width="0.55"/>
<line x1="298.4" y1="419.6" x2="293" y2="426.5" stroke="#a883c8" stroke-opacity="0.5" stroke-width="0.55"/>
<line x1="298.4" y1="419.6" x2="284.5" y2="428.8" stroke="#a883c8" stroke-opacity="0.5" stroke-width="0.55"/>
<line x1="298.4" y1="419.6" x2="309.2" y2="403.5" stroke="#a883c8" stroke-opacity="0.5" stroke-width="0.55"/>
<line x1="298.4" y1="419.6" x2="307" y2="417.3" stroke="#a883c8" stroke-opacity="0.5" stroke-width="0.55"/>
<line x1="298.4" y1="419.6" x2="316.6" y2="422.6" stroke="#a883c8" stroke-opacity="0.5" stroke-width="0.55"/>
<line x1="298.4" y1="419.6" x2="307" y2="432.3" stroke="#a883c8" stroke-opacity="0.5" stroke-width="0.55"/>
<line x1="275.3" y1="424.7" x2="293" y2="426.5" stroke="#a883c8" stroke-opacity="0.5" stroke-width="0.55"/>
<line x1="275.3" y1="424.7" x2="284.5" y2="428.8" stroke="#a883c8" stroke-opacity="0.5" stroke-width="0.55"/>
<line x1="293" y1="426.5" x2="284.5" y2="428.8" stroke="#a883c8" stroke-opacity="0.5" stroke-width="0.55"/>
<line x1="293" y1="426.5" x2="307" y2="417.3" stroke="#a883c8" stroke-opacity="0.5" stroke-width="0.55"/>
<line x1="293" y1="426.5" x2="307" y2="432.3" stroke="#a883c8" stroke-opacity="0.5" stroke-width="0.55"/>
<line x1="309.2" y1="403.5" x2="307" y2="417.3" stroke="#a883c8" stroke-opacity="0.5" stroke-width="0.55"/>
<line x1="309.2" y1="403.5" x2="325" y2="412.2" stroke="#a883c8" stroke-opacity="0.5" stroke-width="0.55"/>
<line x1="309.2" y1="403.5" x2="316.6" y2="422.6" stroke="#a883c8" stroke-opacity="0.5" stroke-width="0.55"/>
<line x1="307" y1="417.3" x2="325" y2="412.2" stroke="#a883c8" stroke-opacity="0.5" stroke-width="0.55"/>
<line x1="307" y1="417.3" x2="316.6" y2="422.6" stroke="#a883c8" stroke-opacity="0.5" stroke-width="0.55"/>
<line x1="307" y1="417.3" x2="325.8" y2="426.5" stroke="#a883c8" stroke-opacity="0.5" stroke-width="0.55"/>
<line x1="307" y1="417.3" x2="307" y2="432.3" stroke="#a883c8" stroke-opacity="0.5" stroke-width="0.55"/>
<line x1="325" y1="412.2" x2="334.6" y2="410.4" stroke="#a883c8" stroke-opacity="0.5" stroke-width="0.55"/>
<line x1="325" y1="412.2" x2="345" y2="419.6" stroke="#a883c8" stroke-opacity="0.5" stroke-width="0.55"/>
<line x1="325" y1="412.2" x2="316.6" y2="422.6" stroke="#a883c8" stroke-opacity="0.5" stroke-width="0.55"/>
<line x1="325" y1="412.2" x2="325.8" y2="426.5" stroke="#a883c8" stroke-opacity="0.5" stroke-width="0.55"/>
<line x1="334.6" y1="410.4" x2="345" y2="419.6" stroke="#a883c8" stroke-opacity="0.5" stroke-width="0.55"/>
<line x1="334.6" y1="410.4" x2="316.6" y2="422.6" stroke="#a883c8" stroke-opacity="0.5" stroke-width="0.55"/>
<line x1="334.6" y1="410.4" x2="325.8" y2="426.5" stroke="#a883c8" stroke-opacity="0.5" stroke-width="0.55"/>
<line x1="334.6" y1="410.4" x2="338" y2="431.8" stroke="#a883c8" stroke-opacity="0.5" stroke-width="0.55"/>
<line x1="345" y1="419.6" x2="325.8" y2="426.5" stroke="#a883c8" stroke-opacity="0.5" stroke-width="0.55"/>
<line x1="345" y1="419.6" x2="338" y2="431.8" stroke="#a883c8" stroke-opacity="0.5" stroke-width="0.55"/>
<line x1="316.6" y1="422.6" x2="325.8" y2="426.5" stroke="#a883c8" stroke-opacity="0.5" stroke-width="0.55"/>
<line x1="316.6" y1="422.6" x2="307" y2="432.3" stroke="#a883c8" stroke-opacity="0.5" stroke-width="0.55"/>
<line x1="325.8" y1="426.5" x2="307" y2="432.3" stroke="#a883c8" stroke-opacity="0.5" stroke-width="0.55"/>
<line x1="325.8" y1="426.5" x2="338" y2="431.8" stroke="#a883c8" stroke-opacity="0.5" stroke-width="0.55"/>
<line x1="259.4" y1="476.8" x2="273" y2="481.4" stroke="#a883c8" stroke-opacity="0.5" stroke-width="0.55"/>
<line x1="84.8" y1="323.8" x2="77.5" y2="315.1" stroke="#50258c" stroke-opacity="0.8" stroke-width="0.9"/>
<line x1="84.8" y1="323.8" x2="89.5" y2="313.2" stroke="#50258c" stroke-opacity="0.8" stroke-width="0.9"/>
<line x1="84.8" y1="323.8" x2="73.4" y2="327.4" stroke="#50258c" stroke-opacity="0.8" stroke-width="0.9"/>
<line x1="84.8" y1="323.8" x2="95.2" y2="327.4" stroke="#50258c" stroke-opacity="0.8" stroke-width="0.9"/>
<line x1="84.8" y1="323.8" x2="80.3" y2="336.6" stroke="#50258c" stroke-opacity="0.8" stroke-width="0.9"/>
<line x1="84.8" y1="323.8" x2="91.7" y2="337.2" stroke="#50258c" stroke-opacity="0.8" stroke-width="0.9"/>
<line x1="183.8" y1="308" x2="173.8" y2="291.1" stroke="#50258c" stroke-opacity="0.8" stroke-width="0.9"/>
<line x1="183.8" y1="308" x2="188.5" y2="288" stroke="#50258c" stroke-opacity="0.8" stroke-width="0.9"/>
<line x1="183.8" y1="308" x2="182.3" y2="296.6" stroke="#50258c" stroke-opacity="0.8" stroke-width="0.9"/>
<line x1="183.8" y1="308" x2="167.4" y2="299.2" stroke="#50258c" stroke-opacity="0.8" stroke-width="0.9"/>
<line x1="183.8" y1="308" x2="190.8" y2="300" stroke="#50258c" stroke-opacity="0.8" stroke-width="0.9"/>
<line x1="183.8" y1="308" x2="173" y2="306.9" stroke="#50258c" stroke-opacity="0.8" stroke-width="0.9"/>
<line x1="183.8" y1="308" x2="193.4" y2="311" stroke="#50258c" stroke-opacity="0.8" stroke-width="0.9"/>
<line x1="183.8" y1="308" x2="168" y2="315.7" stroke="#50258c" stroke-opacity="0.8" stroke-width="0.9"/>
<line x1="183.8" y1="308" x2="186.5" y2="317" stroke="#50258c" stroke-opacity="0.8" stroke-width="0.9"/>
<line x1="179.5" y1="303.5" x2="173.8" y2="291.1" stroke="#7a4cb0" stroke-opacity="0.6" stroke-width="0.7"/>
<line x1="179.5" y1="303.5" x2="182.3" y2="296.6" stroke="#7a4cb0" stroke-opacity="0.6" stroke-width="0.7"/>
<line x1="179.5" y1="303.5" x2="167.4" y2="299.2" stroke="#7a4cb0" stroke-opacity="0.6" stroke-width="0.7"/>
<line x1="179.5" y1="303.5" x2="190.8" y2="300" stroke="#7a4cb0" stroke-opacity="0.6" stroke-width="0.7"/>
<line x1="179.5" y1="303.5" x2="173" y2="306.9" stroke="#7a4cb0" stroke-opacity="0.6" stroke-width="0.7"/>
<line x1="179.5" y1="303.5" x2="183.8" y2="308" stroke="#7a4cb0" stroke-opacity="0.6" stroke-width="0.7"/>
<line x1="183.8" y1="308" x2="198.2" y2="326.2" stroke="#7a4cb0" stroke-opacity="0.6" stroke-width="0.7"/>
<line x1="204.3" y1="338.8" x2="208.5" y2="322.6" stroke="#7a4cb0" stroke-opacity="0.6" stroke-width="0.7"/>
<line x1="204.3" y1="338.8" x2="198.2" y2="326.2" stroke="#7a4cb0" stroke-opacity="0.6" stroke-width="0.7"/>
<line x1="204.3" y1="338.8" x2="213" y2="329.5" stroke="#7a4cb0" stroke-opacity="0.6" stroke-width="0.7"/>
<line x1="204.3" y1="338.8" x2="192.3" y2="335" stroke="#7a4cb0" stroke-opacity="0.6" stroke-width="0.7"/>
<line x1="204.3" y1="338.8" x2="217.7" y2="340" stroke="#7a4cb0" stroke-opacity="0.6" stroke-width="0.7"/>
<line x1="204.3" y1="338.8" x2="194.6" y2="343.5" stroke="#7a4cb0" stroke-opacity="0.6" stroke-width="0.7"/>
<line x1="204.3" y1="338.8" x2="211.5" y2="346.2" stroke="#7a4cb0" stroke-opacity="0.6" stroke-width="0.7"/>
<line x1="204.3" y1="338.8" x2="197.7" y2="355.8" stroke="#7a4cb0" stroke-opacity="0.6" stroke-width="0.7"/>
<line x1="204.3" y1="338.8" x2="207" y2="355" stroke="#7a4cb0" stroke-opacity="0.6" stroke-width="0.7"/>
<line x1="203.6" y1="346" x2="204.3" y2="338.8" stroke="#a883c8" stroke-opacity="0.5" stroke-width="0.55"/>
<line x1="203.6" y1="346" x2="194.6" y2="343.5" stroke="#a883c8" stroke-opacity="0.5" stroke-width="0.55"/>
<line x1="203.6" y1="346" x2="211.5" y2="346.2" stroke="#a883c8" stroke-opacity="0.5" stroke-width="0.55"/>
<line x1="203.6" y1="346" x2="197.7" y2="355.8" stroke="#a883c8" stroke-opacity="0.5" stroke-width="0.55"/>
<line x1="203.6" y1="346" x2="207" y2="355" stroke="#a883c8" stroke-opacity="0.5" stroke-width="0.55"/>
<line x1="329" y1="341.1" x2="324" y2="328.7" stroke="#50258c" stroke-opacity="0.8" stroke-width="0.9"/>
<line x1="329" y1="341.1" x2="334.1" y2="327.9" stroke="#50258c" stroke-opacity="0.8" stroke-width="0.9"/>
<line x1="329" y1="341.1" x2="325.2" y2="336.5" stroke="#50258c" stroke-opacity="0.8" stroke-width="0.9"/>
<line x1="329" y1="341.1" x2="337.6" y2="336" stroke="#50258c" stroke-opacity="0.8" stroke-width="0.9"/>
<line x1="329" y1="341.1" x2="333.8" y2="344" stroke="#50258c" stroke-opacity="0.8" stroke-width="0.9"/>
<line x1="329" y1="341.1" x2="322.3" y2="346" stroke="#50258c" stroke-opacity="0.8" stroke-width="0.9"/>
<line x1="329" y1="341.1" x2="326" y2="353.8" stroke="#50258c" stroke-opacity="0.8" stroke-width="0.9"/>
<line x1="329" y1="341.1" x2="334.7" y2="352.7" stroke="#50258c" stroke-opacity="0.8" stroke-width="0.9"/>
<line x1="329" y1="341.1" x2="313.1" y2="334" stroke="#7a4cb0" stroke-opacity="0.6" stroke-width="0.7"/>
<line x1="329" y1="341.1" x2="313.1" y2="343.2" stroke="#7a4cb0" stroke-opacity="0.6" stroke-width="0.7"/>
<line x1="300.4" y1="332.2" x2="297.2" y2="323" stroke="#7a4cb0" stroke-opacity="0.6" stroke-width="0.7"/>
<line x1="300.4" y1="332.2" x2="307.9" y2="320.7" stroke="#7a4cb0" stroke-opacity="0.6" stroke-width="0.7"/>
<line x1="300.4" y1="332.2" x2="313.1" y2="334" stroke="#7a4cb0" stroke-opacity="0.6" stroke-width="0.7"/>
<line x1="300.4" y1="332.2" x2="295.8" y2="343.7" stroke="#7a4cb0" stroke-opacity="0.6" stroke-width="0.7"/>
<line x1="157.5" y1="427" x2="157.9" y2="416.7" stroke="#50258c" stroke-opacity="0.8" stroke-width="0.9"/>
<line x1="157.5" y1="427" x2="156.5" y2="423" stroke="#50258c" stroke-opacity="0.8" stroke-width="0.9"/>
<line x1="157.5" y1="427" x2="164.5" y2="422.8" stroke="#50258c" stroke-opacity="0.8" stroke-width="0.9"/>
<line x1="157.5" y1="427" x2="175.6" y2="422" stroke="#50258c" stroke-opacity="0.8" stroke-width="0.9"/>
<line x1="157.5" y1="427" x2="167.2" y2="429" stroke="#50258c" stroke-opacity="0.8" stroke-width="0.9"/>
<line x1="157.5" y1="427" x2="155" y2="431.2" stroke="#50258c" stroke-opacity="0.8" stroke-width="0.9"/>
<line x1="157.5" y1="427" x2="164" y2="435.7" stroke="#50258c" stroke-opacity="0.8" stroke-width="0.9"/>
<line x1="157.5" y1="427" x2="175.9" y2="434.4" stroke="#50258c" stroke-opacity="0.8" stroke-width="0.9"/>
<line x1="157.5" y1="427" x2="155.7" y2="439.3" stroke="#50258c" stroke-opacity="0.8" stroke-width="0.9"/>
<line x1="157.5" y1="427" x2="174.6" y2="441" stroke="#50258c" stroke-opacity="0.8" stroke-width="0.9"/>
<line x1="157.5" y1="427" x2="148.4" y2="419.6" stroke="#50258c" stroke-opacity="0.8" stroke-width="0.9"/>
<line x1="157.5" y1="427" x2="141.2" y2="423.7" stroke="#50258c" stroke-opacity="0.8" stroke-width="0.9"/>
<line x1="157.5" y1="427" x2="139.2" y2="431" stroke="#50258c" stroke-opacity="0.8" stroke-width="0.9"/>
<line x1="157.5" y1="427" x2="147" y2="429.4" stroke="#50258c" stroke-opacity="0.8" stroke-width="0.9"/>
<line x1="157.5" y1="427" x2="142.2" y2="439.7" stroke="#50258c" stroke-opacity="0.8" stroke-width="0.9"/>
<line x1="139.6" y1="431.3" x2="136.8" y2="415.8" stroke="#7a4cb0" stroke-opacity="0.6" stroke-width="0.7"/>
<line x1="139.6" y1="431.3" x2="148.4" y2="419.6" stroke="#7a4cb0" stroke-opacity="0.6" stroke-width="0.7"/>
<line x1="139.6" y1="431.3" x2="141.2" y2="423.7" stroke="#7a4cb0" stroke-opacity="0.6" stroke-width="0.7"/>
<line x1="139.6" y1="431.3" x2="125.3" y2="425.5" stroke="#7a4cb0" stroke-opacity="0.6" stroke-width="0.7"/>
<line x1="139.6" y1="431.3" x2="139.2" y2="431" stroke="#7a4cb0" stroke-opacity="0.6" stroke-width="0.7"/>
<line x1="139.6" y1="431.3" x2="147" y2="429.4" stroke="#7a4cb0" stroke-opacity="0.6" stroke-width="0.7"/>
<line x1="139.6" y1="431.3" x2="127.5" y2="437.9" stroke="#7a4cb0" stroke-opacity="0.6" stroke-width="0.7"/>
<line x1="139.6" y1="431.3" x2="142.2" y2="439.7" stroke="#7a4cb0" stroke-opacity="0.6" stroke-width="0.7"/>
<line x1="138.4" y1="406.5" x2="136.8" y2="415.8" stroke="#7a4cb0" stroke-opacity="0.6" stroke-width="0.7"/>
<line x1="138.4" y1="406.5" x2="148.4" y2="419.6" stroke="#7a4cb0" stroke-opacity="0.6" stroke-width="0.7"/>
<line x1="138.4" y1="406.5" x2="141.2" y2="423.7" stroke="#7a4cb0" stroke-opacity="0.6" stroke-width="0.7"/>
<line x1="160.3" y1="445.7" x2="167.2" y2="429" stroke="#7a4cb0" stroke-opacity="0.6" stroke-width="0.7"/>
<line x1="160.3" y1="445.7" x2="155" y2="431.2" stroke="#7a4cb0" stroke-opacity="0.6" stroke-width="0.7"/>
<line x1="160.3" y1="445.7" x2="164" y2="435.7" stroke="#7a4cb0" stroke-opacity="0.6" stroke-width="0.7"/>
<line x1="160.3" y1="445.7" x2="175.9" y2="434.4" stroke="#7a4cb0" stroke-opacity="0.6" stroke-width="0.7"/>
<line x1="160.3" y1="445.7" x2="155.7" y2="439.3" stroke="#7a4cb0" stroke-opacity="0.6" stroke-width="0.7"/>
<line x1="160.3" y1="445.7" x2="174.6" y2="441" stroke="#7a4cb0" stroke-opacity="0.6" stroke-width="0.7"/>
<line x1="160.3" y1="445.7" x2="149.5" y2="440.8" stroke="#7a4cb0" stroke-opacity="0.6" stroke-width="0.7"/>
<line x1="160.3" y1="445.7" x2="160.8" y2="444.8" stroke="#7a4cb0" stroke-opacity="0.6" stroke-width="0.7"/>
<line x1="160.3" y1="445.7" x2="169.5" y2="453.2" stroke="#7a4cb0" stroke-opacity="0.6" stroke-width="0.7"/>
<line x1="160.3" y1="445.7" x2="153.9" y2="457.2" stroke="#7a4cb0" stroke-opacity="0.6" stroke-width="0.7"/>
<line x1="160.3" y1="445.7" x2="162.7" y2="460.8" stroke="#7a4cb0" stroke-opacity="0.6" stroke-width="0.7"/>
<line x1="186.6" y1="413.6" x2="186.9" y2="403.4" stroke="#50258c" stroke-opacity="0.8" stroke-width="0.9"/>
<line x1="186.6" y1="413.6" x2="178" y2="407.5" stroke="#50258c" stroke-opacity="0.8" stroke-width="0.9"/>
<line x1="186.6" y1="413.6" x2="197.7" y2="406.8" stroke="#50258c" stroke-opacity="0.8" stroke-width="0.9"/>
<line x1="186.6" y1="413.6" x2="170.3" y2="412.7" stroke="#50258c" stroke-opacity="0.8" stroke-width="0.9"/>
<line x1="186.6" y1="413.6" x2="181.6" y2="415.5" stroke="#50258c" stroke-opacity="0.8" stroke-width="0.9"/>
<line x1="186.6" y1="413.6" x2="189.7" y2="417.2" stroke="#50258c" stroke-opacity="0.8" stroke-width="0.9"/>
<line x1="186.6" y1="413.6" x2="200.1" y2="416" stroke="#50258c" stroke-opacity="0.8" stroke-width="0.9"/>
<line x1="186.6" y1="413.6" x2="184.8" y2="426.6" stroke="#50258c" stroke-opacity="0.8" stroke-width="0.9"/>
<line x1="186.6" y1="413.6" x2="192.2" y2="426.3" stroke="#50258c" stroke-opacity="0.8" stroke-width="0.9"/>
<line x1="186.6" y1="413.6" x2="164.5" y2="422.8" stroke="#7a4cb0" stroke-opacity="0.6" stroke-width="0.7"/>
<line x1="186.6" y1="413.6" x2="175.6" y2="422" stroke="#7a4cb0" stroke-opacity="0.6" stroke-width="0.7"/>
<line x1="186.6" y1="413.6" x2="175.9" y2="434.4" stroke="#7a4cb0" stroke-opacity="0.6" stroke-width="0.7"/>
<line x1="165" y1="461" x2="160.8" y2="444.8" stroke="#50258c" stroke-opacity="0.8" stroke-width="0.9"/>
<line x1="165" y1="461" x2="169.5" y2="453.2" stroke="#50258c" stroke-opacity="0.8" stroke-width="0.9"/>
<line x1="165" y1="461" x2="153.9" y2="457.2" stroke="#50258c" stroke-opacity="0.8" stroke-width="0.9"/>
<line x1="165" y1="461" x2="162.7" y2="460.8" stroke="#50258c" stroke-opacity="0.8" stroke-width="0.9"/>
<line x1="165" y1="461" x2="178.6" y2="457.3" stroke="#50258c" stroke-opacity="0.8" stroke-width="0.9"/>
<line x1="165" y1="461" x2="152.3" y2="467.3" stroke="#50258c" stroke-opacity="0.8" stroke-width="0.9"/>
<line x1="165" y1="461" x2="178.6" y2="466.2" stroke="#50258c" stroke-opacity="0.8" stroke-width="0.9"/>
<line x1="165" y1="461" x2="162" y2="471.5" stroke="#50258c" stroke-opacity="0.8" stroke-width="0.9"/>
<line x1="165" y1="461" x2="171.4" y2="471.5" stroke="#50258c" stroke-opacity="0.8" stroke-width="0.9"/>
<line x1="285.7" y1="413" x2="290.8" y2="405.3" stroke="#50258c" stroke-opacity="0.8" stroke-width="0.9"/>
<line x1="285.7" y1="413" x2="299" y2="407" stroke="#50258c" stroke-opacity="0.8" stroke-width="0.9"/>
<line x1="285.7" y1="413" x2="295.4" y2="413.4" stroke="#50258c" stroke-opacity="0.8" stroke-width="0.9"/>
<line x1="285.7" y1="413" x2="278.8" y2="419" stroke="#50258c" stroke-opacity="0.8" stroke-width="0.9"/>
<line x1="285.7" y1="413" x2="288.5" y2="420.3" stroke="#50258c" stroke-opacity="0.8" stroke-width="0.9"/>
<line x1="285.7" y1="413" x2="298.4" y2="419.6" stroke="#50258c" stroke-opacity="0.8" stroke-width="0.9"/>
<line x1="285.7" y1="413" x2="275.3" y2="424.7" stroke="#50258c" stroke-opacity="0.8" stroke-width="0.9"/>
<line x1="285.7" y1="413" x2="293" y2="426.5" stroke="#50258c" stroke-opacity="0.8" stroke-width="0.9"/>
<line x1="285.7" y1="413" x2="284.5" y2="428.8" stroke="#50258c" stroke-opacity="0.8" stroke-width="0.9"/>
<line x1="285.7" y1="413" x2="281.5" y2="387.5" stroke="#50258c" stroke-opacity="0.8" stroke-width="0.9"/>
<line x1="285.7" y1="413" x2="266" y2="397.2" stroke="#50258c" stroke-opacity="0.8" stroke-width="0.9"/>
<line x1="285.7" y1="413" x2="281" y2="400.7" stroke="#50258c" stroke-opacity="0.8" stroke-width="0.9"/>
<line x1="285.7" y1="413" x2="288.5" y2="398.8" stroke="#50258c" stroke-opacity="0.8" stroke-width="0.9"/>
<line x1="285.7" y1="413" x2="263.5" y2="407.6" stroke="#50258c" stroke-opacity="0.8" stroke-width="0.9"/>
<line x1="285.7" y1="413" x2="274" y2="407" stroke="#50258c" stroke-opacity="0.8" stroke-width="0.9"/>
<line x1="285.7" y1="413" x2="283" y2="407" stroke="#50258c" stroke-opacity="0.8" stroke-width="0.9"/>
<line x1="285.7" y1="413" x2="273.5" y2="413.4" stroke="#50258c" stroke-opacity="0.8" stroke-width="0.9"/>
<line x1="274" y1="407" x2="266" y2="397.2" stroke="#7a4cb0" stroke-opacity="0.6" stroke-width="0.7"/>
<line x1="274" y1="407" x2="281" y2="400.7" stroke="#7a4cb0" stroke-opacity="0.6" stroke-width="0.7"/>
<line x1="274" y1="407" x2="288.5" y2="398.8" stroke="#7a4cb0" stroke-opacity="0.6" stroke-width="0.7"/>
<line x1="274" y1="407" x2="263.5" y2="407.6" stroke="#7a4cb0" stroke-opacity="0.6" stroke-width="0.7"/>
<line x1="274" y1="407" x2="283" y2="407" stroke="#7a4cb0" stroke-opacity="0.6" stroke-width="0.7"/>
<line x1="274" y1="407" x2="273.5" y2="413.4" stroke="#7a4cb0" stroke-opacity="0.6" stroke-width="0.7"/>
<line x1="316.6" y1="422.6" x2="307" y2="417.3" stroke="#a883c8" stroke-opacity="0.5" stroke-width="0.55"/>
<line x1="316.6" y1="422.6" x2="325" y2="412.2" stroke="#a883c8" stroke-opacity="0.5" stroke-width="0.55"/>
<line x1="316.6" y1="422.6" x2="325.8" y2="426.5" stroke="#a883c8" stroke-opacity="0.5" stroke-width="0.55"/>
<line x1="316.6" y1="422.6" x2="307" y2="432.3" stroke="#a883c8" stroke-opacity="0.5" stroke-width="0.55"/>
<line x1="298.4" y1="419.6" x2="309.2" y2="403.5" stroke="#a883c8" stroke-opacity="0.5" stroke-width="0.55"/>
<line x1="298.4" y1="419.6" x2="307" y2="417.3" stroke="#a883c8" stroke-opacity="0.5" stroke-width="0.55"/>
<line x1="298.4" y1="419.6" x2="316.6" y2="422.6" stroke="#a883c8" stroke-opacity="0.5" stroke-width="0.55"/>
<line x1="298.4" y1="419.6" x2="307" y2="432.3" stroke="#a883c8" stroke-opacity="0.5" stroke-width="0.55"/>
<line x1="104.5" y1="320.5" x2="133.7" y2="309.2" stroke="#a883c8" stroke-opacity="0.5" stroke-width="0.55"/>
<line x1="104.5" y1="320.5" x2="135.7" y2="323" stroke="#a883c8" stroke-opacity="0.5" stroke-width="0.55"/>
<line x1="133.7" y1="309.2" x2="135.7" y2="323" stroke="#a883c8" stroke-opacity="0.5" stroke-width="0.55"/>
<line x1="133.7" y1="309.2" x2="168" y2="315.7" stroke="#a883c8" stroke-opacity="0.5" stroke-width="0.55"/>
<line x1="135.7" y1="323" x2="168" y2="315.7" stroke="#a883c8" stroke-opacity="0.5" stroke-width="0.55"/>
<line x1="133.7" y1="309.6" x2="168" y2="316.2" stroke="#a883c8" stroke-opacity="0.5" stroke-width="0.55"/>
<line x1="168" y1="315.7" x2="208.5" y2="322.6" stroke="#a883c8" stroke-opacity="0.5" stroke-width="0.55"/>
<line x1="186.5" y1="317" x2="208.5" y2="322.6" stroke="#a883c8" stroke-opacity="0.5" stroke-width="0.55"/>
<line x1="183.8" y1="308" x2="208.5" y2="322.6" stroke="#a883c8" stroke-opacity="0.5" stroke-width="0.55"/>
<line x1="208.5" y1="322.6" x2="278.5" y2="319.2" stroke="#a883c8" stroke-opacity="0.5" stroke-width="0.55"/>
<line x1="208.5" y1="322.6" x2="282.8" y2="306.5" stroke="#a883c8" stroke-opacity="0.5" stroke-width="0.55"/>
<line x1="278.5" y1="319.2" x2="282.8" y2="306.5" stroke="#a883c8" stroke-opacity="0.5" stroke-width="0.55"/>
<line x1="282.8" y1="306.5" x2="301.5" y2="296.2" stroke="#a883c8" stroke-opacity="0.5" stroke-width="0.55"/>
<line x1="282.8" y1="306.5" x2="283.4" y2="287.8" stroke="#a883c8" stroke-opacity="0.5" stroke-width="0.55"/>
<line x1="282.8" y1="306.5" x2="307.3" y2="276.8" stroke="#a883c8" stroke-opacity="0.5" stroke-width="0.55"/>
<line x1="283.4" y1="287.8" x2="294.9" y2="265.3" stroke="#a883c8" stroke-opacity="0.5" stroke-width="0.55"/>
<line x1="276.1" y1="271.6" x2="283.4" y2="287.8" stroke="#a883c8" stroke-opacity="0.5" stroke-width="0.55"/>
<line x1="264.9" y1="275.4" x2="283.4" y2="287.8" stroke="#a883c8" stroke-opacity="0.5" stroke-width="0.55"/>
<line x1="294.9" y1="265.3" x2="276.1" y2="271.6" stroke="#a883c8" stroke-opacity="0.5" stroke-width="0.55"/>
<line x1="268.9" y1="294.1" x2="278.5" y2="319.2" stroke="#a883c8" stroke-opacity="0.5" stroke-width="0.55"/>
<line x1="282.8" y1="306.5" x2="297.2" y2="323" stroke="#a883c8" stroke-opacity="0.5" stroke-width="0.55"/>
<line x1="197.7" y1="355.8" x2="191.5" y2="394.2" stroke="#a883c8" stroke-opacity="0.5" stroke-width="0.55"/>
<line x1="207" y1="355" x2="191.5" y2="394.2" stroke="#a883c8" stroke-opacity="0.5" stroke-width="0.55"/>
<line x1="138.4" y1="406.5" x2="148.4" y2="419.6" stroke="#a883c8" stroke-opacity="0.5" stroke-width="0.55"/>
<line x1="138.4" y1="406.5" x2="141.2" y2="423.7" stroke="#a883c8" stroke-opacity="0.5" stroke-width="0.55"/>
<line x1="115" y1="406.5" x2="125.3" y2="425.5" stroke="#a883c8" stroke-opacity="0.5" stroke-width="0.55"/>
<line x1="115" y1="406.5" x2="138.4" y2="406.5" stroke="#a883c8" stroke-opacity="0.5" stroke-width="0.55"/>
<line x1="118.1" y1="384.5" x2="138.4" y2="406.5" stroke="#a883c8" stroke-opacity="0.5" stroke-width="0.55"/>
<line x1="138.7" y1="381.7" x2="138.4" y2="406.5" stroke="#a883c8" stroke-opacity="0.5" stroke-width="0.55"/>
<line x1="126.3" y1="368.5" x2="130.9" y2="348.2" stroke="#a883c8" stroke-opacity="0.5" stroke-width="0.55"/>
<line x1="126.3" y1="368.5" x2="118.1" y2="384.5" stroke="#a883c8" stroke-opacity="0.5" stroke-width="0.55"/>
<line x1="126.3" y1="368.5" x2="138.7" y2="381.7" stroke="#a883c8" stroke-opacity="0.5" stroke-width="0.55"/>
<line x1="115" y1="406.5" x2="127.2" y2="391.7" stroke="#a883c8" stroke-opacity="0.5" stroke-width="0.55"/>
<line x1="118.1" y1="384.5" x2="138.4" y2="406.5" stroke="#a883c8" stroke-opacity="0.5" stroke-width="0.55"/>
<line x1="118.1" y1="384.5" x2="138.7" y2="381.7" stroke="#a883c8" stroke-opacity="0.5" stroke-width="0.55"/>
<line x1="115" y1="406.5" x2="127.4" y2="437.5" stroke="#a883c8" stroke-opacity="0.5" stroke-width="0.55"/>
<line x1="263.7" y1="460.2" x2="279.4" y2="466" stroke="#a883c8" stroke-opacity="0.5" stroke-width="0.55"/>
<line x1="263.7" y1="460.2" x2="259.4" y2="476.8" stroke="#a883c8" stroke-opacity="0.5" stroke-width="0.55"/>
<line x1="279.4" y1="466" x2="259.4" y2="476.8" stroke="#a883c8" stroke-opacity="0.5" stroke-width="0.55"/>
<line x1="279.4" y1="466" x2="273" y2="481.4" stroke="#a883c8" stroke-opacity="0.5" stroke-width="0.55"/>
<line x1="259.4" y1="476.8" x2="273" y2="481.4" stroke="#a883c8" stroke-opacity="0.5" stroke-width="0.55"/>
<line x1="259.4" y1="476.8" x2="252.9" y2="492.5" stroke="#a883c8" stroke-opacity="0.5" stroke-width="0.55"/>
<line x1="273" y1="481.4" x2="252.9" y2="492.5" stroke="#a883c8" stroke-opacity="0.5" stroke-width="0.55"/>
<line x1="273" y1="481.4" x2="268.9" y2="498" stroke="#a883c8" stroke-opacity="0.5" stroke-width="0.55"/>
<line x1="252.9" y1="492.5" x2="268.9" y2="498" stroke="#a883c8" stroke-opacity="0.5" stroke-width="0.55"/>
<line x1="259.4" y1="476.8" x2="268.9" y2="498" stroke="#a883c8" stroke-opacity="0.5" stroke-width="0.55"/>
<line x1="316.3" y1="467.8" x2="333.8" y2="474.6" stroke="#a883c8" stroke-opacity="0.5" stroke-width="0.55"/>
<line x1="333.8" y1="474.6" x2="319" y2="487.2" stroke="#a883c8" stroke-opacity="0.5" stroke-width="0.55"/>
<line x1="316.3" y1="467.8" x2="319" y2="487.2" stroke="#a883c8" stroke-opacity="0.5" stroke-width="0.55"/>
<line x1="312.5" y1="250.3" x2="308.7" y2="260.4" stroke="#7a4cb0" stroke-opacity="0.6" stroke-width="0.7"/>
<line x1="312.5" y1="250.3" x2="318" y2="269" stroke="#7a4cb0" stroke-opacity="0.6" stroke-width="0.7"/>
<line x1="312.5" y1="250.3" x2="326.9" y2="253.7" stroke="#7a4cb0" stroke-opacity="0.6" stroke-width="0.7"/>
<line x1="312.5" y1="250.3" x2="329.8" y2="267.3" stroke="#7a4cb0" stroke-opacity="0.6" stroke-width="0.7"/>
<line x1="308.7" y1="260.4" x2="318" y2="269" stroke="#7a4cb0" stroke-opacity="0.6" stroke-width="0.7"/>
<line x1="308.7" y1="260.4" x2="326.9" y2="253.7" stroke="#7a4cb0" stroke-opacity="0.6" stroke-width="0.7"/>
<line x1="308.7" y1="260.4" x2="329.8" y2="267.3" stroke="#7a4cb0" stroke-opacity="0.6" stroke-width="0.7"/>
<line x1="318" y1="269" x2="326.9" y2="253.7" stroke="#7a4cb0" stroke-opacity="0.6" stroke-width="0.7"/>
<line x1="318" y1="269" x2="329.8" y2="267.3" stroke="#7a4cb0" stroke-opacity="0.6" stroke-width="0.7"/>
<line x1="326.9" y1="253.7" x2="329.8" y2="267.3" stroke="#7a4cb0" stroke-opacity="0.6" stroke-width="0.7"/>
<line x1="307.3" y1="276.8" x2="312.5" y2="250.3" stroke="#7a4cb0" stroke-opacity="0.6" stroke-width="0.7"/>
<line x1="307.3" y1="276.8" x2="308.7" y2="260.4" stroke="#7a4cb0" stroke-opacity="0.6" stroke-width="0.7"/>
<line x1="307.3" y1="276.8" x2="318" y2="269" stroke="#7a4cb0" stroke-opacity="0.6" stroke-width="0.7"/>
<line x1="307.3" y1="276.8" x2="329.8" y2="267.3" stroke="#7a4cb0" stroke-opacity="0.6" stroke-width="0.7"/>
<line x1="294.9" y1="265.3" x2="308.7" y2="260.4" stroke="#7a4cb0" stroke-opacity="0.6" stroke-width="0.7"/>
<line x1="294.9" y1="265.3" x2="318" y2="269" stroke="#7a4cb0" stroke-opacity="0.6" stroke-width="0.7"/>
<line x1="294.9" y1="265.3" x2="307.3" y2="276.8" stroke="#7a4cb0" stroke-opacity="0.6" stroke-width="0.7"/>
<line x1="294.9" y1="265.3" x2="312.5" y2="250.3" stroke="#7a4cb0" stroke-opacity="0.6" stroke-width="0.7"/>
<line x1="77.5" y1="315.1" x2="89.5" y2="313.2" stroke="#a883c8" stroke-opacity="0.5" stroke-width="0.55"/>
<line x1="77.5" y1="315.1" x2="84.8" y2="323.8" stroke="#a883c8" stroke-opacity="0.5" stroke-width="0.55"/>
<line x1="77.5" y1="315.1" x2="73.4" y2="327.4" stroke="#a883c8" stroke-opacity="0.5" stroke-width="0.55"/>
<line x1="77.5" y1="315.1" x2="95.2" y2="327.4" stroke="#a883c8" stroke-opacity="0.5" stroke-width="0.55"/>
<line x1="77.5" y1="315.1" x2="80.3" y2="336.6" stroke="#a883c8" stroke-opacity="0.5" stroke-width="0.55"/>
<line x1="77.5" y1="315.1" x2="91.7" y2="337.2" stroke="#a883c8" stroke-opacity="0.5" stroke-width="0.55"/>
<line x1="77.5" y1="315.1" x2="104.5" y2="320.5" stroke="#a883c8" stroke-opacity="0.5" stroke-width="0.55"/>
<line x1="89.5" y1="313.2" x2="84.8" y2="323.8" stroke="#a883c8" stroke-opacity="0.5" stroke-width="0.55"/>
<line x1="89.5" y1="313.2" x2="73.4" y2="327.4" stroke="#a883c8" stroke-opacity="0.5" stroke-width="0.55"/>
<line x1="89.5" y1="313.2" x2="95.2" y2="327.4" stroke="#a883c8" stroke-opacity="0.5" stroke-width="0.55"/>
<line x1="89.5" y1="313.2" x2="80.3" y2="336.6" stroke="#a883c8" stroke-opacity="0.5" stroke-width="0.55"/>
<line x1="89.5" y1="313.2" x2="91.7" y2="337.2" stroke="#a883c8" stroke-opacity="0.5" stroke-width="0.55"/>
<line x1="89.5" y1="313.2" x2="104.5" y2="320.5" stroke="#a883c8" stroke-opacity="0.5" stroke-width="0.55"/>
<line x1="84.8" y1="323.8" x2="73.4" y2="327.4" stroke="#a883c8" stroke-opacity="0.5" stroke-width="0.55"/>
<line x1="84.8" y1="323.8" x2="95.2" y2="327.4" stroke="#a883c8" stroke-opacity="0.5" stroke-width="0.55"/>
<line x1="84.8" y1="323.8" x2="80.3" y2="336.6" stroke="#a883c8" stroke-opacity="0.5" stroke-width="0.55"/>
<line x1="84.8" y1="323.8" x2="91.7" y2="337.2" stroke="#a883c8" stroke-opacity="0.5" stroke-width="0.55"/>
<line x1="84.8" y1="323.8" x2="104.5" y2="320.5" stroke="#a883c8" stroke-opacity="0.5" stroke-width="0.55"/>
<line x1="73.4" y1="327.4" x2="95.2" y2="327.4" stroke="#a883c8" stroke-opacity="0.5" stroke-width="0.55"/>
<line x1="73.4" y1="327.4" x2="80.3" y2="336.6" stroke="#a883c8" stroke-opacity="0.5" stroke-width="0.55"/>
<line x1="73.4" y1="327.4" x2="91.7" y2="337.2" stroke="#a883c8" stroke-opacity="0.5" stroke-width="0.55"/>
<line x1="95.2" y1="327.4" x2="80.3" y2="336.6" stroke="#a883c8" stroke-opacity="0.5" stroke-width="0.55"/>
<line x1="95.2" y1="327.4" x2="91.7" y2="337.2" stroke="#a883c8" stroke-opacity="0.5" stroke-width="0.55"/>
<line x1="95.2" y1="327.4" x2="104.5" y2="320.5" stroke="#a883c8" stroke-opacity="0.5" stroke-width="0.55"/>
<line x1="80.3" y1="336.6" x2="91.7" y2="337.2" stroke="#a883c8" stroke-opacity="0.5" stroke-width="0.55"/>
<line x1="80.3" y1="336.6" x2="104.5" y2="320.5" stroke="#a883c8" stroke-opacity="0.5" stroke-width="0.55"/>
<line x1="91.7" y1="337.2" x2="104.5" y2="320.5" stroke="#a883c8" stroke-opacity="0.5" stroke-width="0.55"/>
<line x1="278.5" y1="319.2" x2="297.2" y2="323" stroke="#7a4cb0" stroke-opacity="0.6" stroke-width="0.7"/>
<line x1="297.2" y1="323" x2="307.9" y2="320.7" stroke="#7a4cb0" stroke-opacity="0.6" stroke-width="0.7"/>
<line x1="297.2" y1="323" x2="300.4" y2="332.2" stroke="#7a4cb0" stroke-opacity="0.6" stroke-width="0.7"/>
<line x1="297.2" y1="323" x2="313.1" y2="334" stroke="#7a4cb0" stroke-opacity="0.6" stroke-width="0.7"/>
<line x1="297.2" y1="323" x2="295.8" y2="343.7" stroke="#7a4cb0" stroke-opacity="0.6" stroke-width="0.7"/>
<line x1="307.9" y1="320.7" x2="300.4" y2="332.2" stroke="#7a4cb0" stroke-opacity="0.6" stroke-width="0.7"/>
<line x1="307.9" y1="320.7" x2="313.1" y2="334" stroke="#7a4cb0" stroke-opacity="0.6" stroke-width="0.7"/>
<line x1="300.4" y1="332.2" x2="313.1" y2="334" stroke="#7a4cb0" stroke-opacity="0.6" stroke-width="0.7"/>
<line x1="300.4" y1="332.2" x2="295.8" y2="343.7" stroke="#7a4cb0" stroke-opacity="0.6" stroke-width="0.7"/>
<line x1="300.4" y1="332.2" x2="313.1" y2="343.2" stroke="#7a4cb0" stroke-opacity="0.6" stroke-width="0.7"/>
<line x1="313.1" y1="334" x2="295.8" y2="343.7" stroke="#7a4cb0" stroke-opacity="0.6" stroke-width="0.7"/>
<line x1="313.1" y1="334" x2="313.1" y2="343.2" stroke="#7a4cb0" stroke-opacity="0.6" stroke-width="0.7"/>
<line x1="295.8" y1="343.7" x2="313.1" y2="343.2" stroke="#7a4cb0" stroke-opacity="0.6" stroke-width="0.7"/>
<line x1="263.7" y1="460.2" x2="279.4" y2="466" stroke="#7a4cb0" stroke-opacity="0.6" stroke-width="0.7"/>
<line x1="263.7" y1="460.2" x2="259.4" y2="476.8" stroke="#7a4cb0" stroke-opacity="0.6" stroke-width="0.7"/>
<line x1="263.7" y1="460.2" x2="273" y2="481.4" stroke="#7a4cb0" stroke-opacity="0.6" stroke-width="0.7"/>
<line x1="279.4" y1="466" x2="259.4" y2="476.8" stroke="#7a4cb0" stroke-opacity="0.6" stroke-width="0.7"/>
<line x1="279.4" y1="466" x2="273" y2="481.4" stroke="#7a4cb0" stroke-opacity="0.6" stroke-width="0.7"/>
<line x1="259.4" y1="476.8" x2="273" y2="481.4" stroke="#7a4cb0" stroke-opacity="0.6" stroke-width="0.7"/>
<line x1="259.4" y1="476.8" x2="252.9" y2="492.5" stroke="#7a4cb0" stroke-opacity="0.6" stroke-width="0.7"/>
<line x1="259.4" y1="476.8" x2="268.9" y2="498" stroke="#7a4cb0" stroke-opacity="0.6" stroke-width="0.7"/>
<line x1="273" y1="481.4" x2="252.9" y2="492.5" stroke="#7a4cb0" stroke-opacity="0.6" stroke-width="0.7"/>
<line x1="273" y1="481.4" x2="268.9" y2="498" stroke="#7a4cb0" stroke-opacity="0.6" stroke-width="0.7"/>
<line x1="252.9" y1="492.5" x2="268.9" y2="498" stroke="#7a4cb0" stroke-opacity="0.6" stroke-width="0.7"/>
<line x1="316.3" y1="467.8" x2="333.8" y2="474.6" stroke="#7a4cb0" stroke-opacity="0.6" stroke-width="0.7"/>
<line x1="316.3" y1="467.8" x2="319" y2="487.2" stroke="#7a4cb0" stroke-opacity="0.6" stroke-width="0.7"/>
<line x1="333.8" y1="474.6" x2="319" y2="487.2" stroke="#7a4cb0" stroke-opacity="0.6" stroke-width="0.7"/>
<line x1="309.2" y1="403.5" x2="307" y2="417.3" stroke="#a883c8" stroke-opacity="0.5" stroke-width="0.55"/>
<line x1="309.2" y1="403.5" x2="325" y2="412.2" stroke="#a883c8" stroke-opacity="0.5" stroke-width="0.55"/>
<line x1="309.2" y1="403.5" x2="316.6" y2="422.6" stroke="#a883c8" stroke-opacity="0.5" stroke-width="0.55"/>
<line x1="307" y1="417.3" x2="325" y2="412.2" stroke="#a883c8" stroke-opacity="0.5" stroke-width="0.55"/>
<line x1="307" y1="417.3" x2="316.6" y2="422.6" stroke="#a883c8" stroke-opacity="0.5" stroke-width="0.55"/>
<line x1="307" y1="417.3" x2="325.8" y2="426.5" stroke="#a883c8" stroke-opacity="0.5" stroke-width="0.55"/>
<line x1="307" y1="417.3" x2="307" y2="432.3" stroke="#a883c8" stroke-opacity="0.5" stroke-width="0.55"/>
<line x1="325" y1="412.2" x2="334.6" y2="410.4" stroke="#a883c8" stroke-opacity="0.5" stroke-width="0.55"/>
<line x1="325" y1="412.2" x2="345" y2="419.6" stroke="#a883c8" stroke-opacity="0.5" stroke-width="0.55"/>
<line x1="325" y1="412.2" x2="316.6" y2="422.6" stroke="#a883c8" stroke-opacity="0.5" stroke-width="0.55"/>
<line x1="325" y1="412.2" x2="325.8" y2="426.5" stroke="#a883c8" stroke-opacity="0.5" stroke-width="0.55"/>
<line x1="325" y1="412.2" x2="338" y2="431.8" stroke="#a883c8" stroke-opacity="0.5" stroke-width="0.55"/>
<line x1="334.6" y1="410.4" x2="345" y2="419.6" stroke="#a883c8" stroke-opacity="0.5" stroke-width="0.55"/>
<line x1="334.6" y1="410.4" x2="316.6" y2="422.6" stroke="#a883c8" stroke-opacity="0.5" stroke-width="0.55"/>
<line x1="334.6" y1="410.4" x2="325.8" y2="426.5" stroke="#a883c8" stroke-opacity="0.5" stroke-width="0.55"/>
<line x1="334.6" y1="410.4" x2="338" y2="431.8" stroke="#a883c8" stroke-opacity="0.5" stroke-width="0.55"/>
<line x1="345" y1="419.6" x2="325.8" y2="426.5" stroke="#a883c8" stroke-opacity="0.5" stroke-width="0.55"/>
<line x1="345" y1="419.6" x2="338" y2="431.8" stroke="#a883c8" stroke-opacity="0.5" stroke-width="0.55"/>
<line x1="316.6" y1="422.6" x2="325.8" y2="426.5" stroke="#a883c8" stroke-opacity="0.5" stroke-width="0.55"/>
<line x1="316.6" y1="422.6" x2="307" y2="432.3" stroke="#a883c8" stroke-opacity="0.5" stroke-width="0.55"/>
<line x1="316.6" y1="422.6" x2="338" y2="431.8" stroke="#a883c8" stroke-opacity="0.5" stroke-width="0.55"/>
<line x1="325.8" y1="426.5" x2="307" y2="432.3" stroke="#a883c8" stroke-opacity="0.5" stroke-width="0.55"/>
<line x1="325.8" y1="426.5" x2="338" y2="431.8" stroke="#a883c8" stroke-opacity="0.5" stroke-width="0.55"/>
<line x1="255.5" y1="390" x2="309.2" y2="403.5" stroke="#a883c8" stroke-opacity="0.5" stroke-width="0.55"/>
<line x1="270" y1="386.6" x2="309.2" y2="403.5" stroke="#a883c8" stroke-opacity="0.5" stroke-width="0.55"/>
<line x1="288.5" y1="398.8" x2="309.2" y2="403.5" stroke="#a883c8" stroke-opacity="0.5" stroke-width="0.55"/>
<line x1="281.5" y1="387.5" x2="307" y2="417.3" stroke="#a883c8" stroke-opacity="0.5" stroke-width="0.55"/>
<line x1="274" y1="407" x2="307" y2="417.3" stroke="#a883c8" stroke-opacity="0.5" stroke-width="0.55"/>
<line x1="299" y1="407" x2="325" y2="412.2" stroke="#a883c8" stroke-opacity="0.5" stroke-width="0.55"/>
<line x1="298.4" y1="419.6" x2="325.8" y2="426.5" stroke="#a883c8" stroke-opacity="0.5" stroke-width="0.55"/>
<line x1="276.1" y1="271.6" x2="294.9" y2="265.3" stroke="#a883c8" stroke-opacity="0.5" stroke-width="0.55"/>
<line x1="264.9" y1="275.4" x2="283.4" y2="287.8" stroke="#a883c8" stroke-opacity="0.5" stroke-width="0.55"/>
<line x1="264.9" y1="275.4" x2="268.9" y2="294.1" stroke="#a883c8" stroke-opacity="0.5" stroke-width="0.55"/>
<line x1="268.9" y1="294.1" x2="283.4" y2="287.8" stroke="#a883c8" stroke-opacity="0.5" stroke-width="0.55"/>
<line x1="276.1" y1="271.6" x2="283.4" y2="287.8" stroke="#a883c8" stroke-opacity="0.5" stroke-width="0.55"/>
<line x1="276.1" y1="271.6" x2="268.9" y2="294.1" stroke="#a883c8" stroke-opacity="0.5" stroke-width="0.55"/>
<line x1="294.9" y1="265.3" x2="283.4" y2="287.8" stroke="#a883c8" stroke-opacity="0.5" stroke-width="0.55"/>
<line x1="307.3" y1="276.8" x2="282.8" y2="306.5" stroke="#a883c8" stroke-opacity="0.5" stroke-width="0.55"/>
<line x1="301.5" y1="296.2" x2="282.8" y2="306.5" stroke="#a883c8" stroke-opacity="0.5" stroke-width="0.55"/>
<line x1="283.4" y1="287.8" x2="282.8" y2="306.5" stroke="#a883c8" stroke-opacity="0.5" stroke-width="0.55"/>
<line x1="268.9" y1="294.1" x2="278.5" y2="319.2" stroke="#a883c8" stroke-opacity="0.5" stroke-width="0.55"/>
<line x1="282.8" y1="306.5" x2="278.5" y2="319.2" stroke="#a883c8" stroke-opacity="0.5" stroke-width="0.55"/>
<circle cx="77.5" cy="315.1" r="2.5" fill="#2d5fa9" stroke="#1f4c8c" stroke-width="0.6"/>
<circle cx="89.5" cy="313.2" r="2.5" fill="#2d5fa9" stroke="#1f4c8c" stroke-width="0.6"/>
<circle cx="84.8" cy="323.8" r="2.5" fill="#2d5fa9" stroke="#1f4c8c" stroke-width="0.6"/>
<circle cx="73.4" cy="327.4" r="2.5" fill="#2d5fa9" stroke="#1f4c8c" stroke-width="0.6"/>
<circle cx="95.2" cy="327.4" r="2.5" fill="#2d5fa9" stroke="#1f4c8c" stroke-width="0.6"/>
<circle cx="80.3" cy="336.6" r="2.5" fill="#2d5fa9" stroke="#1f4c8c" stroke-width="0.6"/>
<circle cx="91.7" cy="337.2" r="2.5" fill="#2d5fa9" stroke="#1f4c8c" stroke-width="0.6"/>
<circle cx="104.5" cy="320.5" r="2.5" fill="#2d5fa9" stroke="#1f4c8c" stroke-width="0.6"/>
<circle cx="133.7" cy="309.2" r="2.5" fill="#2d5fa9" stroke="#1f4c8c" stroke-width="0.6"/>
<circle cx="135.7" cy="323" r="2.5" fill="#2d5fa9" stroke="#1f4c8c" stroke-width="0.6"/>
<circle cx="173.8" cy="291.1" r="2.4" fill="#e64a4c" stroke="#b83036" stroke-width="0.6"/>
<circle cx="188.5" cy="288" r="1.5" fill="#e64a4c" stroke="#b83036" stroke-width="0.6"/>
<circle cx="182.3" cy="296.6" r="2.4" fill="#e64a4c" stroke="#b83036" stroke-width="0.6"/>
<circle cx="167.4" cy="299.2" r="2.4" fill="#e64a4c" stroke="#b83036" stroke-width="0.6"/>
<circle cx="190.8" cy="300" r="1.9" fill="#e64a4c" stroke="#b83036" stroke-width="0.6"/>
<circle cx="173" cy="306.9" r="2.3" fill="#e64a4c" stroke="#b83036" stroke-width="0.6"/>
<circle cx="183.8" cy="308" r="2.1" fill="#e64a4c" stroke="#b83036" stroke-width="0.6"/>
<circle cx="193.4" cy="311" r="1.6" fill="#e64a4c" stroke="#b83036" stroke-width="0.6"/>
<circle cx="168" cy="315.7" r="2.4" fill="#e64a4c" stroke="#b83036" stroke-width="0.6"/>
<circle cx="186.5" cy="317" r="1.6" fill="#e64a4c" stroke="#b83036" stroke-width="0.6"/>
<circle cx="208.5" cy="322.6" r="2.3" fill="#f6c3dc" stroke="#9486c4" stroke-width="0.6"/>
<circle cx="198.2" cy="326.2" r="1.2" fill="#f6c3dc" stroke="#9486c4" stroke-width="0.6"/>
<circle cx="213" cy="329.5" r="1.8" fill="#f6c3dc" stroke="#9486c4" stroke-width="0.6"/>
<circle cx="192.3" cy="335" r="1.3" fill="#f6c3dc" stroke="#9486c4" stroke-width="0.6"/>
<circle cx="204.3" cy="338.8" r="2.1" fill="#f6c3dc" stroke="#9486c4" stroke-width="0.6"/>
<circle cx="217.7" cy="340" r="2.3" fill="#f6c3dc" stroke="#9486c4" stroke-width="0.6"/>
<circle cx="194.6" cy="343.5" r="2.3" fill="#f6c3dc" stroke="#9486c4" stroke-width="0.6"/>
<circle cx="211.5" cy="346.2" r="2.2" fill="#f6c3dc" stroke="#9486c4" stroke-width="0.6"/>
<circle cx="197.7" cy="355.8" r="2.3" fill="#f6c3dc" stroke="#9486c4" stroke-width="0.6"/>
<circle cx="207" cy="355" r="2.2" fill="#f6c3dc" stroke="#9486c4" stroke-width="0.6"/>
<circle cx="312.5" cy="250.3" r="1.5" fill="#b3b0df" stroke="#7c7cbf" stroke-width="0.6"/>
<circle cx="326.9" cy="253.7" r="0.9" fill="#b3b0df" stroke="#7c7cbf" stroke-width="0.6"/>
<circle cx="308.7" cy="260.4" r="2" fill="#b3b0df" stroke="#7c7cbf" stroke-width="0.6"/>
<circle cx="294.9" cy="265.3" r="2.5" fill="#b3b0df" stroke="#7c7cbf" stroke-width="0.6"/>
<circle cx="318" cy="269" r="2" fill="#b3b0df" stroke="#7c7cbf" stroke-width="0.6"/>
<circle cx="329.8" cy="267.3" r="0.9" fill="#b3b0df" stroke="#7c7cbf" stroke-width="0.6"/>
<circle cx="307.3" cy="276.8" r="1.2" fill="#b3b0df" stroke="#7c7cbf" stroke-width="0.6"/>
<circle cx="276.1" cy="271.6" r="1.5" fill="#dcdcd2" stroke="#8fa2bd" stroke-width="0.6"/>
<circle cx="264.9" cy="275.4" r="2.5" fill="#dcdcd2" stroke="#8fa2bd" stroke-width="0.6"/>
<circle cx="283.4" cy="287.8" r="2.5" fill="#dcdcd2" stroke="#8fa2bd" stroke-width="0.6"/>
<circle cx="268.9" cy="294.1" r="2.5" fill="#dcdcd2" stroke="#8fa2bd" stroke-width="0.6"/>
<circle cx="301.5" cy="296.2" r="2.5" fill="#a6301e" stroke="#7a2014" stroke-width="0.6"/>
<circle cx="282.8" cy="306.5" r="2.5" fill="#a6301e" stroke="#7a2014" stroke-width="0.6"/>
<circle cx="278.5" cy="319.2" r="2.5" fill="#f3ee1e" stroke="#8f8f3a" stroke-width="0.6"/>
<circle cx="297.2" cy="323" r="2.5" fill="#f3ee1e" stroke="#8f8f3a" stroke-width="0.6"/>
<circle cx="307.9" cy="320.7" r="1.6" fill="#f3ee1e" stroke="#8f8f3a" stroke-width="0.6"/>
<circle cx="300.4" cy="332.2" r="2.5" fill="#f3ee1e" stroke="#8f8f3a" stroke-width="0.6"/>
<circle cx="313.1" cy="334" r="2.5" fill="#f3ee1e" stroke="#8f8f3a" stroke-width="0.6"/>
<circle cx="295.8" cy="343.7" r="1.4" fill="#f3ee1e" stroke="#8f8f3a" stroke-width="0.6"/>
<circle cx="313.1" cy="343.2" r="2.5" fill="#f3ee1e" stroke="#8f8f3a" stroke-width="0.6"/>
<circle cx="324" cy="328.7" r="2.4" fill="#7f2a91" stroke="#5e1f70" stroke-width="0.6"/>
<circle cx="334.1" cy="327.9" r="2.4" fill="#7f2a91" stroke="#5e1f70" stroke-width="0.6"/>
<circle cx="325.2" cy="336.5" r="2.4" fill="#7f2a91" stroke="#5e1f70" stroke-width="0.6"/>
<circle cx="337.6" cy="336" r="2.4" fill="#7f2a91" stroke="#5e1f70" stroke-width="0.6"/>
<circle cx="347.7" cy="337.4" r="2.4" fill="#7f2a91" stroke="#5e1f70" stroke-width="0.6"/>
<circle cx="333.8" cy="344" r="1.8" fill="#7f2a91" stroke="#5e1f70" stroke-width="0.6"/>
<circle cx="329" cy="341.1" r="1.0" fill="#7f2a91" stroke="#5e1f70" stroke-width="0.6"/>
<circle cx="322.3" cy="346" r="2.4" fill="#7f2a91" stroke="#5e1f70" stroke-width="0.6"/>
<circle cx="345.7" cy="348.9" r="2.4" fill="#7f2a91" stroke="#5e1f70" stroke-width="0.6"/>
<circle cx="326" cy="353.8" r="2" fill="#7f2a91" stroke="#5e1f70" stroke-width="0.6"/>
<circle cx="334.7" cy="352.7" r="2.3" fill="#7f2a91" stroke="#5e1f70" stroke-width="0.6"/>
<circle cx="130.9" cy="348.2" r="0.7" fill="#777777" stroke="#555555" stroke-width="0.6"/>
<circle cx="126.3" cy="368.5" r="1.5" fill="#f2a244" stroke="#c88030" stroke-width="0.6"/>
<circle cx="118.1" cy="384.5" r="2.5" fill="#84caab" stroke="#5b9ca2" stroke-width="0.6"/>
<circle cx="138.7" cy="381.7" r="2.5" fill="#84caab" stroke="#5b9ca2" stroke-width="0.6"/>
<circle cx="127.2" cy="391.7" r="2.3" fill="#84caab" stroke="#5b9ca2" stroke-width="0.6"/>
<circle cx="115" cy="406.5" r="1" fill="#84caab" stroke="#5b9ca2" stroke-width="0.6"/>
<circle cx="138.4" cy="406.5" r="1.3" fill="#84caab" stroke="#5b9ca2" stroke-width="0.6"/>
<circle cx="191.5" cy="394.2" r="2.4" fill="#c2e3aa" stroke="#8db3a2" stroke-width="0.6"/>
<circle cx="186.9" cy="403.4" r="2.3" fill="#c2e3aa" stroke="#8db3a2" stroke-width="0.6"/>
<circle cx="178" cy="407.5" r="2.3" fill="#c2e3aa" stroke="#8db3a2" stroke-width="0.6"/>
<circle cx="197.7" cy="406.8" r="2.3" fill="#c2e3aa" stroke="#8db3a2" stroke-width="0.6"/>
<circle cx="170.3" cy="412.7" r="2.2" fill="#c2e3aa" stroke="#8db3a2" stroke-width="0.6"/>
<circle cx="181.6" cy="415.5" r="2.3" fill="#c2e3aa" stroke="#8db3a2" stroke-width="0.6"/>
<circle cx="189.7" cy="417.2" r="2.3" fill="#c2e3aa" stroke="#8db3a2" stroke-width="0.6"/>
<circle cx="200.1" cy="416" r="2.3" fill="#c2e3aa" stroke="#8db3a2" stroke-width="0.6"/>
<circle cx="184.8" cy="426.6" r="2.2" fill="#c2e3aa" stroke="#8db3a2" stroke-width="0.6"/>
<circle cx="192.2" cy="426.3" r="2.2" fill="#c2e3aa" stroke="#8db3a2" stroke-width="0.6"/>
<circle cx="157.9" cy="416.7" r="2.3" fill="#ee0b20" stroke="#b4061a" stroke-width="0.6"/>
<circle cx="156.5" cy="423" r="2.3" fill="#ee0b20" stroke="#b4061a" stroke-width="0.6"/>
<circle cx="164.5" cy="422.8" r="2.3" fill="#ee0b20" stroke="#b4061a" stroke-width="0.6"/>
<circle cx="175.6" cy="422" r="2.3" fill="#ee0b20" stroke="#b4061a" stroke-width="0.6"/>
<circle cx="167.2" cy="429" r="2.3" fill="#ee0b20" stroke="#b4061a" stroke-width="0.6"/>
<circle cx="155" cy="431.2" r="2.3" fill="#ee0b20" stroke="#b4061a" stroke-width="0.6"/>
<circle cx="164" cy="435.7" r="2.3" fill="#ee0b20" stroke="#b4061a" stroke-width="0.6"/>
<circle cx="175.9" cy="434.4" r="2.3" fill="#ee0b20" stroke="#b4061a" stroke-width="0.6"/>
<circle cx="155.7" cy="439.3" r="2.3" fill="#ee0b20" stroke="#b4061a" stroke-width="0.6"/>
<circle cx="174.6" cy="441" r="2.3" fill="#ee0b20" stroke="#b4061a" stroke-width="0.6"/>
<circle cx="136.8" cy="415.8" r="1" fill="#7ca8cd" stroke="#5987b2" stroke-width="0.6"/>
<circle cx="148.4" cy="419.6" r="1.5" fill="#7ca8cd" stroke="#5987b2" stroke-width="0.6"/>
<circle cx="141.2" cy="423.7" r="1.5" fill="#7ca8cd" stroke="#5987b2" stroke-width="0.6"/>
<circle cx="125.3" cy="425.5" r="0.8" fill="#7ca8cd" stroke="#5987b2" stroke-width="0.6"/>
<circle cx="139.2" cy="431" r="2.3" fill="#7ca8cd" stroke="#5987b2" stroke-width="0.6"/>
<circle cx="147" cy="429.4" r="2.3" fill="#7ca8cd" stroke="#5987b2" stroke-width="0.6"/>
<circle cx="127.5" cy="437.9" r="0.8" fill="#7ca8cd" stroke="#5987b2" stroke-width="0.6"/>
<circle cx="142.2" cy="439.7" r="2.3" fill="#7ca8cd" stroke="#5987b2" stroke-width="0.6"/>
<circle cx="149.5" cy="440.8" r="2" fill="#3c9d3b" stroke="#2b7b2d" stroke-width="0.6"/>
<circle cx="160.8" cy="444.8" r="2.3" fill="#3c9d3b" stroke="#2b7b2d" stroke-width="0.6"/>
<circle cx="169.5" cy="453.2" r="2.3" fill="#3c9d3b" stroke="#2b7b2d" stroke-width="0.6"/>
<circle cx="153.9" cy="457.2" r="2.3" fill="#3c9d3b" stroke="#2b7b2d" stroke-width="0.6"/>
<circle cx="162.7" cy="460.8" r="2.3" fill="#3c9d3b" stroke="#2b7b2d" stroke-width="0.6"/>
<circle cx="178.6" cy="457.3" r="2.3" fill="#3c9d3b" stroke="#2b7b2d" stroke-width="0.6"/>
<circle cx="152.3" cy="467.3" r="2.3" fill="#3c9d3b" stroke="#2b7b2d" stroke-width="0.6"/>
<circle cx="178.6" cy="466.2" r="2.3" fill="#3c9d3b" stroke="#2b7b2d" stroke-width="0.6"/>
<circle cx="162" cy="471.5" r="2.3" fill="#3c9d3b" stroke="#2b7b2d" stroke-width="0.6"/>
<circle cx="171.4" cy="471.5" r="2.3" fill="#3c9d3b" stroke="#2b7b2d" stroke-width="0.6"/>
<circle cx="255.5" cy="390" r="2.3" fill="#f26524" stroke="#c24a12" stroke-width="0.6"/>
<circle cx="270" cy="386.6" r="2" fill="#f26524" stroke="#c24a12" stroke-width="0.6"/>
<circle cx="281.5" cy="387.5" r="2.3" fill="#f26524" stroke="#c24a12" stroke-width="0.6"/>
<circle cx="266" cy="397.2" r="2.3" fill="#f26524" stroke="#c24a12" stroke-width="0.6"/>
<circle cx="281" cy="400.7" r="2.3" fill="#f26524" stroke="#c24a12" stroke-width="0.6"/>
<circle cx="288.5" cy="398.8" r="2.3" fill="#f26524" stroke="#c24a12" stroke-width="0.6"/>
<circle cx="263.5" cy="407.6" r="2.3" fill="#f26524" stroke="#c24a12" stroke-width="0.6"/>
<circle cx="274" cy="407" r="2.3" fill="#f26524" stroke="#c24a12" stroke-width="0.6"/>
<circle cx="283" cy="407" r="2.3" fill="#f26524" stroke="#c24a12" stroke-width="0.6"/>
<circle cx="273.5" cy="413.4" r="2.3" fill="#f26524" stroke="#c24a12" stroke-width="0.6"/>
<circle cx="290.8" cy="405.3" r="2.3" fill="#8b8b8b" stroke="#6a7a92" stroke-width="0.6"/>
<circle cx="299" cy="407" r="2.3" fill="#8b8b8b" stroke="#6a7a92" stroke-width="0.6"/>
<circle cx="285.7" cy="413" r="2.3" fill="#8b8b8b" stroke="#6a7a92" stroke-width="0.6"/>
<circle cx="295.4" cy="413.4" r="2.3" fill="#8b8b8b" stroke="#6a7a92" stroke-width="0.6"/>
<circle cx="278.8" cy="419" r="2.3" fill="#8b8b8b" stroke="#6a7a92" stroke-width="0.6"/>
<circle cx="288.5" cy="420.3" r="1.5" fill="#8b8b8b" stroke="#6a7a92" stroke-width="0.6"/>
<circle cx="298.4" cy="419.6" r="2.3" fill="#8b8b8b" stroke="#6a7a92" stroke-width="0.6"/>
<circle cx="275.3" cy="424.7" r="2.3" fill="#8b8b8b" stroke="#6a7a92" stroke-width="0.6"/>
<circle cx="293" cy="426.5" r="2" fill="#8b8b8b" stroke="#6a7a92" stroke-width="0.6"/>
<circle cx="284.5" cy="428.8" r="2" fill="#8b8b8b" stroke="#6a7a92" stroke-width="0.6"/>
<circle cx="309.2" cy="403.5" r="2.3" fill="#98cd46" stroke="#79a93a" stroke-width="0.6"/>
<circle cx="307" cy="417.3" r="2.3" fill="#98cd46" stroke="#79a93a" stroke-width="0.6"/>
<circle cx="325" cy="412.2" r="2.3" fill="#98cd46" stroke="#79a93a" stroke-width="0.6"/>
<circle cx="334.6" cy="410.4" r="1" fill="#98cd46" stroke="#79a93a" stroke-width="0.6"/>
<circle cx="345" cy="419.6" r="1" fill="#98cd46" stroke="#79a93a" stroke-width="0.6"/>
<circle cx="316.6" cy="422.6" r="1.3" fill="#98cd46" stroke="#79a93a" stroke-width="0.6"/>
<circle cx="325.8" cy="426.5" r="2.3" fill="#98cd46" stroke="#79a93a" stroke-width="0.6"/>
<circle cx="307" cy="432.3" r="2.3" fill="#98cd46" stroke="#79a93a" stroke-width="0.6"/>
<circle cx="338" cy="431.8" r="1" fill="#98cd46" stroke="#79a93a" stroke-width="0.6"/>
<circle cx="263.7" cy="460.2" r="1.2" fill="#a963b9" stroke="#84489a" stroke-width="0.6"/>
<circle cx="279.4" cy="466" r="1.2" fill="#a963b9" stroke="#84489a" stroke-width="0.6"/>
<circle cx="259.4" cy="476.8" r="2.3" fill="#a963b9" stroke="#84489a" stroke-width="0.6"/>
<circle cx="273" cy="481.4" r="2.3" fill="#a963b9" stroke="#84489a" stroke-width="0.6"/>
<circle cx="252.9" cy="492.5" r="2.3" fill="#a963b9" stroke="#84489a" stroke-width="0.6"/>
<circle cx="268.9" cy="498" r="2.3" fill="#a963b9" stroke="#84489a" stroke-width="0.6"/>
<circle cx="316.3" cy="467.8" r="2.3" fill="#e968a8" stroke="#c04c88" stroke-width="0.6"/>
<circle cx="333.8" cy="474.6" r="1.5" fill="#e968a8" stroke="#c04c88" stroke-width="0.6"/>
<circle cx="319" cy="487.2" r="2.3" fill="#e968a8" stroke="#c04c88" stroke-width="0.6"/>
<rect x="59" y="246.3" width="139.6" height="34.5" fill="none" stroke="#72c8aa" stroke-width="1.3" stroke-linecap="round" stroke-dasharray="0.01 4.2"/>
<rect x="63.1" y="249.2" width="4.3" height="4.3" fill="#f5c1dc"/>
<text transform="translate(69.9 253.6) scale(0.9091 1)" font-size="7.535" fill="#333" >Regulation of mitochondrion organization</text>
<rect x="63.1" y="257.4" width="4.3" height="4.3" fill="#e8574c"/>
<text transform="translate(69.9 261.6) scale(0.9091 1)" font-size="7.535" fill="#333" >Autophagy</text>
<rect x="63.1" y="265.6" width="4.3" height="4.3" fill="#2064b2"/>
<text transform="translate(69.9 269.7) scale(0.9091 1)" font-size="7.535" fill="#333" >Modification-dependent macromolecule</text>
<text transform="translate(69.9 277.3) scale(0.9091 1)" font-size="7.535" fill="#333" >catabolic processing</text>
<text transform="translate(7.8 268.8) scale(0.9091 1)" font-size="7.535" fill="#333" >Mitochondrion</text>
<text transform="translate(7.8 276.3) scale(0.9091 1)" font-size="7.535" fill="#333" >&amp; autophagy</text>
<text transform="translate(384.6 263.8) scale(0.8333 1)" font-size="9.204" fill="#333" >Chromatin &amp; cellular organization</text>
<rect x="366.8" y="268.3" width="146.2" height="53.69999999999999" fill="none" stroke="#4a4aa2" stroke-width="1.3" stroke-linecap="round" stroke-dasharray="0.01 4.2"/>
<rect x="375.2" y="272.9" width="4.1" height="4.1" fill="#f0ea14"/>
<text transform="translate(384 276.8) scale(0.9091 1)" font-size="7.535" fill="#333" >Regulation of chromosome organization</text>
<rect x="375.2" y="281.0" width="4.1" height="4.1" fill="#80288f"/>
<text transform="translate(384 284.8) scale(0.9091 1)" font-size="7.535" fill="#333" >Covalent chromatin modification</text>
<rect x="375.2" y="289.3" width="4.1" height="4.1" fill="#b0461c"/>
<text transform="translate(384 292.8) scale(0.9091 1)" font-size="7.535" fill="#333" >Negative regulation of cellular component</text>
<text transform="translate(384 300.8) scale(0.9091 1)" font-size="7.535" fill="#333" >organization</text>
<rect x="375.2" y="305.6" width="4.1" height="4.1" fill="#d4d4d0"/>
<text transform="translate(384 308.9) scale(0.9091 1)" font-size="7.535" fill="#333" >Regulation of protein complex assembly</text>
<rect x="375.2" y="313.1" width="4.1" height="4.1" fill="#b4b2de"/>
<text transform="translate(384 316.8) scale(0.9091 1)" font-size="7.535" fill="#333" >Regulation of organelle assembly</text>
<text transform="translate(25 360.2) scale(0.8333 1)" font-size="9.168" fill="#333" >Complex assembly</text>
<rect x="12.5" y="364.5" width="89.5" height="27.5" fill="none" stroke="#86c25a" stroke-width="1.3" stroke-linecap="round" stroke-dasharray="0.01 4.2"/>
<rect x="16.8" y="368.4" width="4.2" height="4.2" fill="#74c5b6"/>
<text transform="translate(25 371.5) scale(0.9091 1)" font-size="7.535" fill="#333" >Ribonucleoprotein</text>
<text transform="translate(25 380.1) scale(0.9091 1)" font-size="7.535" fill="#333" >complex assembly</text>
<rect x="16.8" y="384.7" width="4.2" height="4.2" fill="#f1a54e"/>
<text transform="translate(25 388.8) scale(0.9091 1)" font-size="7.535" fill="#333" >Stress granule assembly</text>
<text transform="translate(44.4 497.3) scale(0.9091 1)" font-size="7.535" fill="#333" >mRNA</text>
<text transform="translate(44.4 505.8) scale(0.9091 1)" font-size="7.535" fill="#333" >processing</text>
<text transform="translate(44.4 514.2) scale(0.9091 1)" font-size="7.535" fill="#333" >&amp; splicing</text>
<rect x="85.8" y="489.3" width="133.8" height="36.099999999999966" fill="none" stroke="#f59c5c" stroke-width="1.3" stroke-linecap="round" stroke-dasharray="0.01 4.2"/>
<rect x="87.3" y="493.2" width="4.2" height="4.2" fill="#e0061c"/>
<text transform="translate(93 497.2) scale(0.9091 1)" font-size="7.535" fill="#333" >mRNA processing</text>
<rect x="87.3" y="501.2" width="4.2" height="4.2" fill="#72a8d6"/>
<text transform="translate(93 505.1) scale(0.9091 1)" font-size="7.535" fill="#333" >Regulation of RNA splicing</text>
<rect x="87.3" y="509.1" width="4.2" height="4.2" fill="#2ca02c"/>
<text transform="translate(93 513.0) scale(0.9091 1)" font-size="7.535" fill="#333" >Regulation of mRNA metabolic process</text>
<rect x="87.3" y="516.0" width="4.2" height="4.2" fill="#a2d072"/>
<text transform="translate(93 520.2) scale(0.9091 1)" font-size="7.535" fill="#333" >mRNA 3′-end processing</text>
<text transform="translate(380.7 398.5) scale(0.8333 1)" font-size="9.360" fill="#333" >Cell cycle &amp; TP53</text>
<rect x="367.2" y="401.3" width="122.0" height="27.099999999999966" fill="none" stroke="#3a3a3a" stroke-width="1.3" stroke-linecap="round" stroke-dasharray="0.01 4.2"/>
<rect x="373.1" y="404.9" width="4.2" height="4.2" fill="#e8605a"/>
<text transform="translate(380.8 408.7) scale(0.9091 1)" font-size="7.535" fill="#333" >Regulation of cell cycle process</text>
<rect x="373.1" y="413.0" width="4.2" height="4.2" fill="#8a8a8a"/>
<text transform="translate(380.8 416.7) scale(0.9091 1)" font-size="7.535" fill="#333" >Negative regulation of cell cycle</text>
<rect x="373.1" y="421.1" width="4.2" height="4.2" fill="#98c850"/>
<text transform="translate(380.8 424.8) scale(0.9091 1)" font-size="7.535" fill="#333" >Transcriptional regulation by TP53</text>
<rect x="319.2" y="507.5" width="3.9" height="3.9" fill="#e968a8"/>
<text transform="translate(326.8 511.8) scale(0.9091 1)" font-size="7.535" fill="#333" >DNA repair</text>
<rect x="232.3" y="530.5" width="4.0" height="4.0" fill="#a963b9"/>
<text transform="translate(239.5 535.4) scale(0.9091 1)" font-size="7.535" fill="#333" >Regulation of</text>
<text transform="translate(239.5 543.8) scale(0.9091 1)" font-size="7.535" fill="#333" >protein modification</text>
</svg>
<div class="frame"></div>
</body></html>
